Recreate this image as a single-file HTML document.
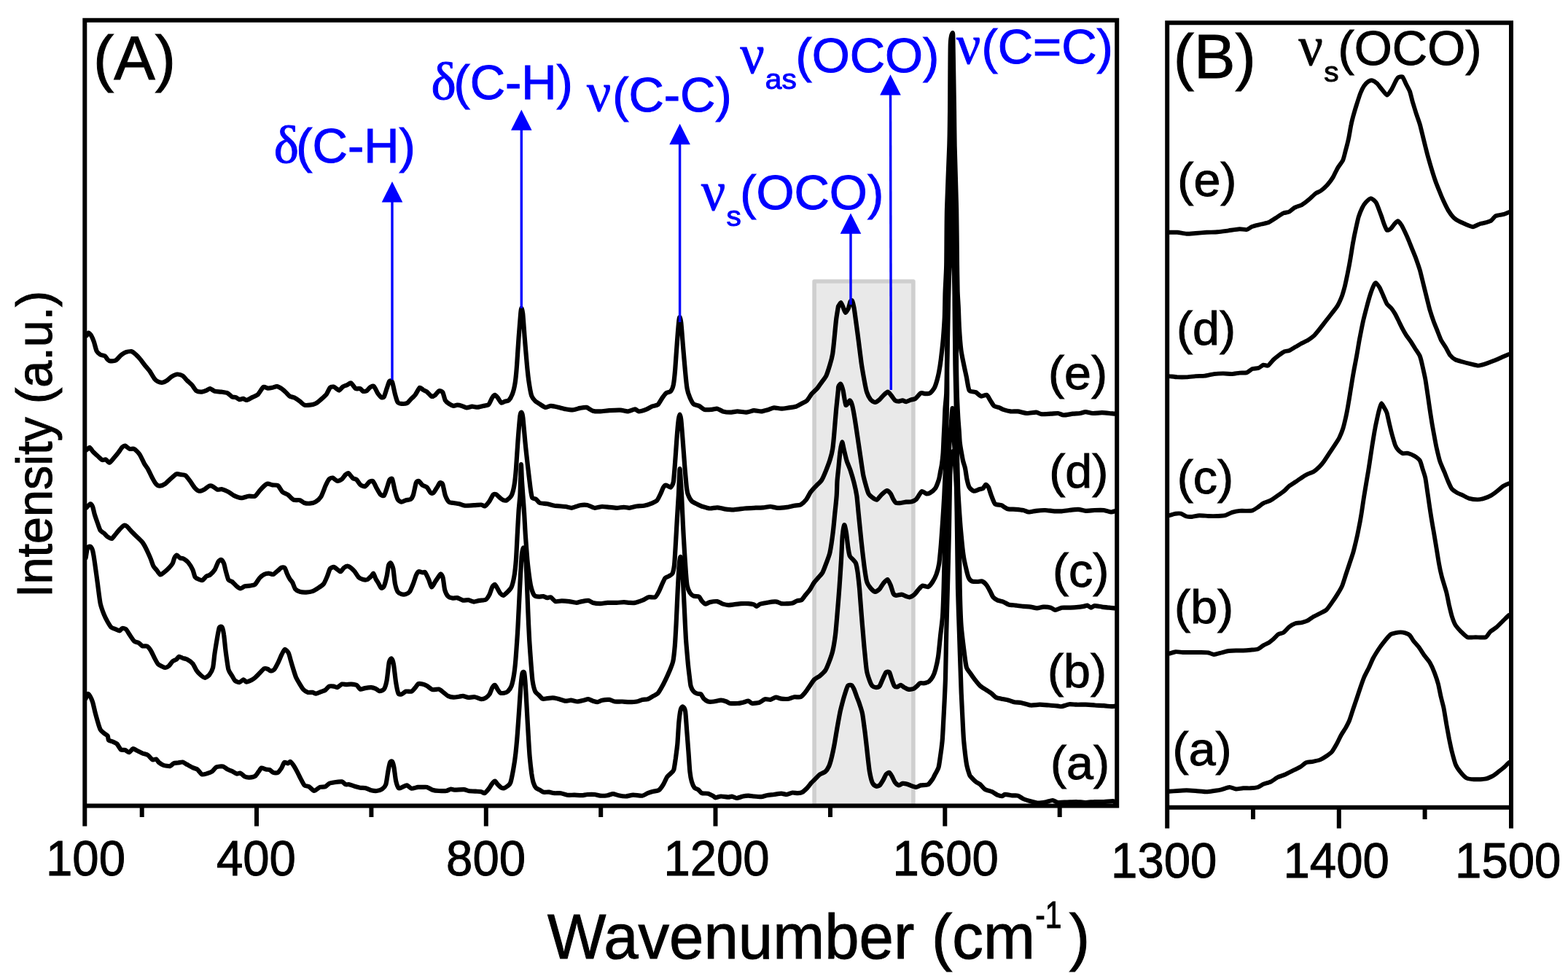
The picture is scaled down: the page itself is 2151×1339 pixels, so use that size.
<!DOCTYPE html>
<html lang="en"><head><meta charset="utf-8"><title>Raman spectra</title><style>html,body{margin:0;padding:0;background:#fff}body{width:2151px;height:1339px;overflow:hidden}svg{display:block}</style></head><body>
<svg width="2151" height="1339" viewBox="0 0 2151 1339">
<rect x="0" y="0" width="2151" height="1339" fill="#fff"/>
<rect id="hl" x="1117.1" y="386" width="135.8" height="719.4" fill="#e9e9e9" stroke="#cfcfcf" stroke-width="5.6" stroke-linejoin="round"/>
<g id="curvesA" fill="none" stroke="#000" stroke-width="6.2" stroke-linejoin="round" stroke-linecap="round">
<path d="M117.6,958.2C117.9,957.5 119.9,952.2 120.6,951.9C121.3,951.6 123.2,954.5 123.9,955.7C124.6,956.9 126.4,961.0 127.1,963.2C127.8,965.4 129.4,972.8 130.1,975.7C130.8,978.6 133.1,986.8 133.9,989.6C134.7,992.4 136.7,999.1 137.7,1000.9C138.7,1002.7 141.6,1004.9 142.7,1005.9C143.8,1006.9 147.0,1008.6 147.7,1009.6C148.4,1010.6 148.3,1014.6 149.0,1015.4C149.7,1016.2 152.8,1016.7 154.0,1017.2C155.2,1017.8 159.0,1019.2 160.3,1020.4C161.6,1021.6 164.6,1027.6 165.8,1028.5C167.0,1029.4 170.3,1028.6 171.6,1029.0C172.9,1029.4 176.1,1032.4 177.3,1032.2C178.5,1032.0 181.1,1027.5 182.3,1027.2C183.5,1026.9 186.5,1029.0 187.9,1029.7C189.3,1030.4 193.8,1032.8 195.4,1033.5C197.1,1034.2 201.4,1035.0 202.9,1036.0C204.4,1037.0 208.0,1041.7 209.2,1042.3C210.4,1042.9 213.2,1041.1 214.2,1041.5C215.2,1041.9 216.9,1045.1 218.0,1046.0C219.1,1046.9 222.6,1049.2 224.3,1049.8C226.0,1050.4 231.6,1051.4 233.1,1051.1C234.6,1050.8 236.9,1047.8 238.1,1047.3C239.3,1046.8 243.0,1046.7 244.4,1046.5C245.8,1046.3 249.2,1045.2 250.6,1045.5C252.0,1045.8 255.4,1048.3 256.9,1049.1C258.4,1049.9 262.9,1052.4 264.4,1053.1C265.9,1053.8 269.3,1054.6 270.7,1055.6C272.1,1056.6 275.5,1061.8 277.0,1062.4C278.5,1063.0 283.0,1061.5 284.5,1061.1C286.0,1060.7 289.4,1059.6 290.8,1058.6C292.2,1057.6 295.4,1053.1 297.1,1052.3C298.8,1051.5 304.2,1051.2 305.9,1051.6C307.6,1052.0 310.8,1054.9 312.2,1055.6C313.6,1056.3 317.0,1057.4 318.4,1058.1C319.8,1058.8 323.5,1061.3 324.7,1061.6C325.9,1061.9 328.5,1060.2 329.7,1060.6C330.9,1061.0 334.6,1064.9 336.0,1065.6C337.4,1066.3 340.8,1066.7 342.3,1066.6C343.8,1066.5 348.4,1065.8 349.8,1064.9C351.2,1064.0 353.8,1059.8 354.8,1058.6C355.8,1057.4 357.5,1053.9 358.6,1053.6C359.7,1053.3 363.7,1055.3 364.9,1055.6C366.1,1055.9 368.8,1055.6 369.9,1056.1C371.0,1056.6 373.7,1059.5 374.9,1059.9C376.1,1060.3 380.0,1060.6 381.2,1059.9C382.4,1059.2 385.2,1055.1 386.2,1053.6C387.2,1052.1 389.0,1046.7 390.0,1046.0C391.0,1045.3 394.1,1047.4 395.0,1047.3C395.9,1047.2 397.5,1044.5 398.3,1044.8C399.1,1045.1 401.5,1048.3 402.5,1049.8C403.5,1051.3 406.5,1056.5 407.6,1058.6C408.7,1060.7 411.5,1066.5 412.6,1068.6C413.7,1070.7 416.4,1076.2 417.6,1077.4C418.8,1078.6 422.4,1078.4 423.9,1079.2C425.4,1080.0 429.2,1084.9 430.9,1085.0C432.5,1085.1 437.2,1080.5 438.9,1079.9C440.6,1079.3 445.1,1079.8 446.5,1079.2C447.9,1078.7 450.1,1075.6 451.5,1074.9C452.9,1074.2 457.1,1073.5 459.0,1073.2C460.9,1072.9 467.4,1072.1 469.1,1072.4C470.8,1072.7 473.0,1075.8 474.1,1076.2C475.2,1076.6 477.7,1075.9 479.1,1076.2C480.5,1076.5 484.9,1078.2 486.6,1078.7C488.3,1079.2 492.5,1080.4 494.2,1080.7C495.9,1081.0 500.1,1080.8 501.7,1081.2C503.3,1081.6 507.5,1083.8 509.2,1084.2C510.9,1084.6 515.1,1085.2 516.8,1085.0C518.5,1084.8 522.9,1083.5 524.3,1082.5C525.7,1081.5 528.4,1078.8 529.3,1076.2C530.2,1073.6 531.7,1061.9 532.3,1058.6C532.9,1055.3 534.5,1047.5 535.1,1046.0C535.7,1044.5 537.5,1044.0 538.1,1044.8C538.7,1045.6 540.1,1050.7 540.6,1053.6C541.1,1056.5 542.4,1068.2 543.1,1071.2C543.8,1074.2 545.9,1080.2 546.9,1081.2C547.9,1082.2 550.7,1080.3 551.9,1079.9C553.1,1079.5 556.8,1077.2 558.2,1077.4C559.6,1077.6 562.8,1081.4 564.5,1081.7C566.2,1082.0 571.6,1080.1 573.3,1079.9C574.9,1079.7 578.1,1079.9 579.5,1079.9C580.9,1079.9 584.3,1079.5 585.8,1079.9C587.3,1080.3 591.5,1083.1 593.3,1083.7C595.1,1084.3 600.0,1084.9 602.1,1085.0C604.2,1085.1 610.4,1085.3 612.2,1085.0C614.0,1084.7 617.3,1082.6 618.5,1082.5C619.7,1082.4 621.5,1083.6 623.5,1083.7C625.5,1083.8 634.2,1083.1 636.3,1083.2C638.4,1083.3 640.8,1084.7 642.6,1085.0C644.4,1085.3 650.7,1085.6 652.6,1085.7C654.5,1085.8 658.9,1085.9 660.2,1086.2C661.5,1086.5 663.6,1088.6 664.7,1088.2C665.8,1087.8 669.0,1084.0 670.2,1082.5C671.4,1081.0 674.2,1076.1 675.2,1074.9C676.2,1073.7 678.2,1071.6 679.0,1071.7C679.8,1071.8 681.8,1075.2 682.8,1076.2C683.8,1077.2 686.8,1080.2 687.8,1080.7C688.8,1081.2 690.6,1081.5 691.6,1081.2C692.6,1080.9 695.6,1079.0 696.6,1078.2C697.6,1077.4 699.5,1076.1 700.3,1073.7C701.1,1071.3 703.3,1060.5 704.1,1056.1C704.9,1051.7 706.8,1039.0 707.4,1033.5C708.0,1028.0 709.4,1012.8 709.9,1005.9C710.4,999.0 711.9,978.4 712.4,970.7C712.9,963.0 714.4,940.8 714.9,935.6C715.4,930.4 716.2,924.4 716.7,923.0C717.2,921.6 718.7,921.1 719.2,923.0C719.7,924.9 720.5,934.8 720.9,940.6C721.3,946.4 722.5,968.0 722.9,975.7C723.3,983.4 724.5,1004.0 724.9,1010.9C725.3,1017.8 726.2,1033.0 726.7,1038.5C727.2,1044.0 728.7,1057.2 729.2,1061.1C729.8,1065.0 731.0,1071.5 731.7,1073.7C732.4,1075.9 734.5,1080.1 735.5,1081.2C736.5,1082.3 739.4,1083.1 740.5,1083.7C741.6,1084.3 744.1,1086.4 745.5,1086.7C746.9,1087.0 751.4,1086.5 753.1,1086.7C754.8,1086.9 758.8,1088.0 760.6,1088.2C762.4,1088.4 767.5,1087.9 769.4,1088.2C771.3,1088.5 776.1,1090.4 778.2,1090.7C780.3,1091.0 786.0,1090.6 788.2,1090.7C790.4,1090.8 796.4,1091.3 798.3,1091.2C800.2,1091.1 803.9,1090.1 805.8,1090.0C807.7,1089.9 813.9,1089.8 815.8,1090.0C817.7,1090.2 821.5,1091.6 823.4,1091.7C825.3,1091.8 831.5,1091.5 833.4,1091.2C835.3,1090.9 839.2,1089.2 840.9,1089.2C842.6,1089.2 846.6,1090.8 848.5,1091.2C850.4,1091.6 856.3,1092.6 858.5,1092.5C860.7,1092.4 866.1,1090.8 868.6,1090.7C871.1,1090.6 878.9,1092.0 881.1,1091.7C883.3,1091.4 886.9,1088.9 888.6,1088.2C890.3,1087.5 894.5,1086.1 896.2,1085.7C897.9,1085.3 902.2,1085.2 903.7,1084.2C905.2,1083.2 908.8,1078.2 910.0,1076.2C911.2,1074.2 913.9,1067.8 915.0,1066.1C916.1,1064.4 919.0,1062.2 920.0,1061.1C921.0,1060.0 923.6,1058.3 924.3,1056.1C925.0,1053.9 926.2,1044.9 926.8,1041.0C927.3,1037.1 928.8,1026.4 929.3,1020.9C929.8,1015.4 930.8,996.0 931.3,990.8C931.8,985.6 933.2,975.5 933.8,973.2C934.4,970.9 936.1,969.2 936.8,969.5C937.5,969.8 939.5,972.2 940.1,975.7C940.7,979.2 941.6,994.8 942.1,1000.9C942.6,1007.0 943.9,1024.7 944.4,1031.0C944.9,1037.3 945.9,1054.0 946.4,1058.6C946.9,1063.2 948.2,1070.0 948.9,1072.4C949.6,1074.8 951.7,1079.5 952.7,1080.7C953.7,1081.9 956.6,1082.4 957.7,1083.2C958.8,1084.0 961.2,1087.6 962.7,1088.2C964.2,1088.8 969.7,1088.2 971.5,1088.7C973.3,1089.2 977.9,1091.9 979.0,1092.5C980.1,1093.1 980.4,1094.3 981.5,1094.3C982.6,1094.3 987.2,1092.6 989.1,1092.5C991.0,1092.4 997.5,1093.7 999.1,1093.7C1000.8,1093.7 1002.9,1092.4 1004.1,1092.5C1005.3,1092.6 1008.7,1095.0 1010.4,1095.0C1012.1,1095.0 1017.4,1092.9 1019.2,1092.5C1021.0,1092.1 1025.0,1091.7 1026.7,1091.7C1028.4,1091.7 1032.4,1092.3 1034.3,1092.5C1036.2,1092.7 1042.4,1093.3 1044.3,1093.2C1046.2,1093.1 1049.9,1091.6 1051.8,1091.2C1053.7,1090.8 1059.7,1090.3 1061.9,1090.0C1064.1,1089.7 1070.0,1088.7 1071.9,1088.7C1073.8,1088.7 1077.8,1090.1 1079.5,1090.0C1081.2,1089.9 1085.3,1087.7 1087.0,1087.5C1088.7,1087.3 1093.0,1088.3 1094.5,1088.2C1096.0,1088.1 1099.4,1087.5 1100.8,1086.7C1102.2,1085.9 1105.7,1082.6 1107.1,1081.2C1108.5,1079.8 1111.9,1075.2 1113.3,1073.7C1114.7,1072.2 1118.4,1068.6 1119.6,1067.4C1120.8,1066.2 1123.2,1063.4 1124.6,1062.4C1126.0,1061.4 1130.8,1059.8 1132.2,1058.6C1133.6,1057.4 1136.2,1053.3 1137.2,1051.1C1138.2,1048.9 1140.2,1041.8 1141.0,1038.5C1141.8,1035.2 1143.9,1025.3 1144.7,1020.9C1145.5,1016.5 1147.6,1003.3 1148.5,998.3C1149.4,993.3 1151.8,979.8 1152.7,975.7C1153.6,971.6 1155.7,963.7 1156.5,960.7C1157.3,957.7 1159.6,950.3 1160.3,948.1C1161.0,945.9 1162.4,941.5 1163.3,940.6C1164.2,939.7 1167.4,939.6 1168.3,940.1C1169.2,940.6 1170.8,943.9 1171.6,945.6C1172.4,947.3 1174.5,953.5 1175.3,955.7C1176.1,957.9 1178.3,963.2 1179.1,965.7C1179.9,968.2 1182.2,975.0 1182.9,978.3C1183.6,981.6 1184.9,991.7 1185.4,995.8C1186.0,999.9 1187.4,1011.2 1187.9,1015.9C1188.5,1020.6 1189.9,1033.8 1190.4,1038.5C1191.0,1043.2 1192.2,1054.7 1192.9,1058.6C1193.6,1062.5 1195.7,1071.5 1196.7,1073.7C1197.7,1075.9 1200.6,1078.3 1201.7,1078.7C1202.8,1079.1 1205.6,1078.4 1206.7,1077.4C1207.8,1076.4 1210.7,1071.6 1211.7,1069.9C1212.7,1068.2 1214.6,1063.5 1215.5,1062.4C1216.4,1061.3 1219.1,1059.6 1220.0,1059.9C1220.9,1060.2 1222.6,1063.4 1223.5,1064.9C1224.4,1066.4 1226.9,1072.3 1228.0,1073.7C1229.1,1075.1 1232.0,1077.3 1233.1,1077.4C1234.2,1077.5 1236.9,1075.1 1238.1,1074.9C1239.3,1074.7 1243.0,1075.3 1244.4,1075.7C1245.8,1076.1 1249.2,1077.7 1250.6,1078.2C1252.0,1078.7 1255.5,1080.0 1256.9,1079.9C1258.3,1079.8 1261.4,1077.8 1263.2,1077.4C1265.0,1077.0 1271.4,1077.2 1273.2,1076.2C1275.0,1075.2 1278.5,1069.9 1279.5,1068.6C1280.5,1067.3 1281.0,1065.7 1281.9,1064.0C1282.8,1062.3 1286.6,1055.7 1287.5,1052.8C1288.4,1049.9 1289.4,1041.3 1290.0,1037.4C1290.6,1033.5 1292.1,1022.1 1292.6,1017.0C1293.1,1011.9 1293.8,997.6 1294.1,991.4C1294.4,985.2 1295.4,967.5 1295.7,960.7C1296.0,953.9 1296.7,940.0 1297.0,930.0C1297.3,920.0 1297.9,883.5 1298.2,870.0C1298.5,856.5 1299.5,822.4 1299.9,807.0C1300.3,791.6 1301.6,745.1 1301.9,730.0C1302.2,714.9 1302.7,680.2 1302.9,670.0C1303.1,659.8 1303.5,642.6 1304.0,637.0C1304.5,631.4 1306.3,619.0 1307.0,619.0C1307.7,619.0 1309.5,631.4 1310.0,637.0C1310.5,642.6 1311.7,659.8 1312.0,670.0C1312.3,680.2 1312.8,714.9 1313.0,730.0C1313.2,745.1 1313.7,791.6 1314.0,807.0C1314.3,822.4 1315.6,856.5 1316.0,870.0C1316.4,883.5 1317.7,921.1 1318.0,930.0C1318.3,938.9 1318.5,946.0 1318.7,950.5C1318.9,955.0 1319.5,966.4 1319.7,970.9C1319.9,975.4 1320.5,986.9 1320.7,991.4C1320.9,995.9 1321.5,1007.4 1321.8,1011.9C1322.1,1016.4 1323.3,1028.0 1323.8,1032.3C1324.3,1036.6 1325.7,1047.3 1326.4,1050.7C1327.1,1054.1 1329.4,1061.3 1330.0,1063.0C1330.6,1064.7 1331.3,1065.1 1332.2,1066.1C1333.1,1067.1 1337.1,1071.3 1338.5,1072.4C1339.9,1073.5 1343.4,1075.2 1344.8,1076.3C1346.2,1077.5 1349.3,1081.7 1351.1,1082.8C1352.9,1083.9 1359.2,1085.4 1361.1,1086.3C1363.0,1087.2 1367.1,1090.2 1368.6,1090.8C1370.1,1091.5 1373.8,1092.3 1374.9,1092.2C1376.0,1092.1 1377.2,1089.9 1378.7,1089.8C1380.2,1089.7 1386.8,1091.2 1388.7,1091.4C1390.6,1091.6 1394.6,1091.1 1396.3,1091.6C1398.0,1092.1 1401.9,1095.2 1403.8,1096.0C1405.7,1096.8 1411.6,1098.6 1413.8,1099.2C1416.0,1099.8 1421.7,1101.6 1423.9,1101.7C1426.1,1101.8 1431.7,1100.9 1433.9,1100.5C1436.1,1100.1 1442.1,1097.9 1444.0,1098.0C1445.9,1098.1 1449.3,1100.7 1451.5,1101.0C1453.7,1101.3 1461.2,1100.6 1464.0,1100.5C1466.8,1100.4 1473.8,1099.9 1476.6,1100.0C1479.4,1100.1 1486.4,1101.0 1489.2,1101.0C1492.0,1101.0 1498.9,1100.1 1501.7,1100.0C1504.5,1099.9 1511.5,1100.1 1514.3,1100.0C1517.1,1099.9 1525.1,1099.1 1526.8,1099.2C1528.5,1099.3 1529.0,1100.4 1529.3,1100.5"/>
<path d="M117.6,765.4C117.9,763.9 119.4,753.3 120.1,751.6C120.8,749.9 123.1,749.4 123.9,749.8C124.7,750.2 126.4,752.8 127.1,755.3C127.8,757.8 129.4,767.9 130.1,772.9C130.8,777.9 133.1,794.4 133.9,800.5C134.7,806.6 136.7,823.4 137.7,828.1C138.7,832.8 141.6,840.4 142.7,843.2C143.8,846.0 146.6,851.3 147.7,853.2C148.8,855.1 151.5,859.7 152.7,860.8C153.9,861.9 157.8,862.8 159.0,863.3C160.2,863.8 163.0,865.4 164.0,865.3C165.0,865.2 166.8,862.2 167.8,862.0C168.8,861.8 171.7,862.3 172.8,863.3C173.9,864.3 176.6,869.0 177.8,870.8C179.0,872.6 182.7,878.4 184.1,879.6C185.5,880.8 189.2,881.4 190.4,882.1C191.6,882.8 194.2,885.9 195.4,886.4C196.6,886.9 200.5,885.8 201.7,886.4C202.9,887.0 205.6,890.5 206.7,892.2C207.8,893.9 210.6,900.1 211.7,902.2C212.8,904.3 215.6,909.7 216.7,911.0C217.8,912.3 220.7,913.5 221.8,914.0C222.9,914.5 225.7,916.1 226.8,916.0C227.9,915.9 230.7,914.5 231.8,913.5C232.9,912.5 235.7,908.2 236.8,907.2C237.9,906.2 240.9,905.4 241.9,904.7C242.9,904.0 244.6,901.1 245.6,900.9C246.6,900.7 249.4,902.5 250.6,902.9C251.8,903.3 255.4,903.9 256.9,904.7C258.4,905.5 263.0,908.8 264.4,910.5C265.8,912.2 268.3,918.0 269.5,919.8C270.7,921.6 274.4,925.4 275.7,926.5C277.0,927.6 280.1,929.9 281.3,929.8C282.5,929.7 285.8,927.5 287.0,926.0C288.2,924.5 291.3,919.3 292.1,916.0C292.9,912.7 293.9,900.6 294.6,895.9C295.3,891.2 297.6,877.2 298.3,873.3C299.0,869.4 300.2,862.2 300.9,860.8C301.6,859.4 303.9,859.2 304.6,860.3C305.3,861.4 306.6,867.2 307.1,870.8C307.7,874.4 308.9,888.2 309.6,893.4C310.3,898.6 312.4,914.8 313.4,918.5C314.4,922.2 317.4,925.6 318.4,927.3C319.4,929.0 321.1,932.6 322.2,933.6C323.3,934.6 327.2,936.2 328.5,936.1C329.8,936.0 333.0,932.4 334.0,932.3C335.0,932.2 336.8,935.5 338.0,935.6C339.2,935.7 343.5,933.7 344.8,933.1C346.1,932.5 348.6,930.9 349.8,929.8C351.0,928.7 354.7,924.9 356.1,923.5C357.5,922.1 361.2,917.9 362.4,917.3C363.6,916.7 366.4,917.6 367.4,918.0C368.4,918.4 370.2,920.4 371.2,920.5C372.2,920.6 375.1,919.7 376.2,918.5C377.3,917.3 380.1,911.9 381.2,909.7C382.3,907.5 385.2,900.5 386.2,898.4C387.2,896.3 389.6,891.2 390.7,890.9C391.8,890.6 394.9,894.2 395.8,895.9C396.7,897.6 398.1,903.5 398.8,906.0C399.5,908.5 401.7,915.9 402.5,918.5C403.3,921.1 405.3,927.6 406.3,929.8C407.3,932.0 410.2,936.8 411.3,938.6C412.4,940.4 415.1,944.9 416.3,946.1C417.5,947.3 421.2,949.5 422.6,949.9C424.0,950.3 427.7,949.7 428.9,949.9C430.1,950.1 432.2,951.8 433.4,951.7C434.6,951.6 438.8,949.7 440.2,949.1C441.6,948.5 445.3,947.4 446.5,946.6C447.7,945.8 450.3,942.1 451.5,941.6C452.7,941.1 456.6,941.4 457.8,941.6C459.0,941.8 461.6,943.4 462.8,943.1C464.0,942.8 467.7,939.0 469.1,938.6C470.5,938.2 473.9,939.1 475.3,939.1C476.7,939.1 480.1,938.5 481.6,938.6C483.1,938.7 487.8,939.1 489.2,939.9C490.6,940.7 493.0,945.1 494.2,945.6C495.4,946.1 498.9,944.4 500.5,944.1C502.1,943.8 507.6,943.0 509.2,943.1C510.8,943.2 514.3,944.4 515.5,944.9C516.7,945.4 519.3,948.0 520.5,948.1C521.7,948.2 525.7,947.2 526.8,945.6C527.9,944.0 529.8,937.7 530.6,933.6C531.4,929.5 533.1,911.8 533.8,908.5C534.5,905.2 536.2,903.1 536.9,903.4C537.6,903.7 539.2,907.4 539.9,911.0C540.6,914.6 542.4,931.7 543.1,936.1C543.8,940.5 545.6,949.4 546.4,951.2C547.2,953.0 549.5,952.7 550.7,952.4C551.9,952.1 555.4,949.0 556.9,948.6C558.4,948.2 563.1,949.1 564.5,948.6C565.9,948.1 568.5,944.8 569.5,943.6C570.5,942.4 572.9,938.6 574.0,938.1C575.1,937.6 578.2,938.3 579.5,938.6C580.8,938.9 584.3,940.3 585.8,941.1C587.3,941.9 591.5,945.6 593.3,946.1C595.1,946.6 600.4,945.2 602.1,945.6C603.8,946.0 607.0,948.9 608.4,949.9C609.8,950.9 613.2,954.2 614.7,954.9C616.2,955.6 620.5,956.6 622.2,956.7C623.9,956.8 628.4,955.9 629.8,955.7C631.2,955.5 633.7,954.8 635.1,954.9C636.5,955.0 640.8,956.8 642.6,956.9C644.4,957.0 649.5,955.9 651.4,956.2C653.3,956.5 658.6,959.1 660.2,959.2C661.9,959.3 665.2,958.1 666.4,957.4C667.6,956.7 670.5,953.9 671.5,952.4C672.5,950.9 674.4,945.0 675.2,943.6C676.0,942.2 678.2,939.6 679.0,939.9C679.8,940.2 682.0,944.9 682.8,946.1C683.6,947.3 685.5,950.2 686.5,950.7C687.5,951.2 690.5,950.9 691.6,950.7C692.7,950.5 695.5,949.7 696.6,948.6C697.7,947.5 700.6,943.9 701.6,941.1C702.6,938.3 704.7,928.2 705.4,923.5C706.1,918.8 707.4,905.3 707.9,898.4C708.4,891.5 709.9,870.5 710.4,860.8C710.9,851.1 712.4,821.1 712.9,810.6C713.4,800.1 714.9,771.9 715.4,765.4C715.9,758.9 717.4,752.4 717.9,751.6C718.4,750.8 719.9,753.8 720.4,757.8C720.9,761.8 722.0,779.4 722.4,788.0C722.8,796.6 723.8,825.8 724.2,835.7C724.6,845.6 725.7,870.0 726.2,878.3C726.7,886.6 728.0,904.9 728.5,911.0C729.0,917.1 729.9,929.5 730.5,933.6C731.1,937.7 733.2,946.4 734.2,948.6C735.2,950.8 738.2,952.6 739.3,953.7C740.4,954.8 743.1,958.2 744.3,958.7C745.5,959.2 749.1,958.3 750.6,958.2C752.1,958.1 756.5,957.3 758.1,957.4C759.8,957.5 763.7,958.2 765.6,958.7C767.5,959.2 773.8,961.5 775.7,961.7C777.6,961.9 781.4,960.6 783.2,960.7C785.0,960.8 790.1,962.5 792.0,962.5C793.9,962.5 799.1,961.1 800.8,960.7C802.4,960.3 805.6,959.1 807.0,959.2C808.4,959.3 811.9,961.3 813.3,961.7C814.7,962.1 818.2,963.3 819.6,963.2C821.0,963.1 824.1,961.1 825.9,960.7C827.7,960.3 834.0,959.7 835.9,959.9C837.8,960.1 841.5,962.2 843.4,962.5C845.3,962.8 851.3,962.4 853.5,962.5C855.7,962.6 861.3,963.2 863.5,963.2C865.7,963.2 871.7,962.9 873.6,962.5C875.5,962.1 879.5,960.3 881.1,959.9C882.8,959.5 886.9,959.8 888.6,959.2C890.3,958.7 894.7,955.8 896.2,954.9C897.7,954.0 901.1,952.7 902.5,951.2C903.9,949.7 907.5,943.3 908.7,941.1C909.9,938.9 912.6,933.4 913.7,931.1C914.8,928.8 917.7,922.4 918.8,919.8C919.9,917.2 922.5,910.9 923.3,907.2C924.1,903.5 925.3,891.6 925.8,885.9C926.3,880.2 927.2,863.2 927.6,855.7C928.0,848.2 928.9,826.4 929.3,818.1C929.7,809.8 930.9,786.3 931.3,780.4C931.7,774.5 932.9,765.2 933.3,764.1C933.7,763.0 934.9,766.4 935.3,770.4C935.7,774.4 936.7,793.3 937.1,800.5C937.5,807.7 938.5,827.4 938.9,835.7C939.3,844.0 940.4,868.1 940.9,875.8C941.4,883.5 942.9,900.2 943.4,906.0C943.9,911.8 945.4,924.7 945.9,928.6C946.4,932.5 947.0,938.9 947.6,941.1C948.2,943.3 950.4,947.4 951.4,948.6C952.4,949.8 955.3,951.3 956.4,951.7C957.5,952.1 960.5,951.7 961.5,952.4C962.5,953.1 964.1,957.1 965.2,958.2C966.3,959.3 970.0,962.0 971.5,962.5C973.0,963.0 977.1,962.7 979.0,962.5C980.9,962.3 987.2,960.7 989.1,960.7C991.0,960.7 995.2,962.0 996.6,962.5C998.0,963.0 999.9,964.7 1001.6,965.0C1003.3,965.3 1009.8,965.1 1011.7,965.0C1013.6,964.9 1017.6,964.1 1019.2,963.7C1020.9,963.3 1025.3,961.6 1026.7,961.7C1028.1,961.8 1030.0,964.8 1031.7,965.0C1033.4,965.2 1039.9,964.3 1041.8,963.7C1043.7,963.1 1047.6,959.6 1049.3,959.2C1051.0,958.8 1055.2,960.2 1056.9,959.9C1058.6,959.6 1062.8,956.8 1064.4,956.7C1066.1,956.6 1070.0,958.5 1071.9,958.7C1073.8,958.9 1080.1,959.0 1082.0,958.7C1083.9,958.4 1087.7,956.5 1089.5,956.2C1091.3,955.9 1096.6,956.9 1098.3,956.2C1100.0,955.5 1103.2,951.6 1104.6,949.9C1106.0,948.2 1109.4,943.0 1110.8,941.1C1112.2,939.2 1115.6,933.8 1117.1,932.3C1118.6,930.8 1122.9,928.7 1124.6,927.3C1126.3,925.9 1130.8,921.9 1132.2,919.8C1133.6,917.7 1136.1,911.4 1137.2,908.5C1138.3,905.6 1141.2,897.5 1142.2,893.4C1143.2,889.3 1145.3,876.3 1146.0,870.8C1146.7,865.3 1147.9,850.4 1148.5,843.2C1149.1,836.0 1150.9,813.8 1151.5,805.5C1152.1,797.2 1153.5,775.6 1154.0,767.9C1154.5,760.2 1155.2,740.4 1155.7,735.2C1156.2,730.0 1157.6,720.8 1158.2,720.2C1158.8,719.7 1160.2,726.9 1160.8,730.2C1161.4,733.5 1162.8,746.7 1163.3,750.3C1163.8,753.9 1165.0,761.0 1165.8,762.9C1166.6,764.8 1169.4,766.8 1170.3,767.9C1171.2,769.0 1173.4,771.0 1174.1,772.9C1174.8,774.8 1176.0,781.5 1176.6,785.4C1177.1,789.3 1178.5,801.9 1179.1,808.0C1179.6,814.1 1181.0,833.8 1181.6,840.7C1182.1,847.6 1183.5,864.5 1184.1,870.8C1184.6,877.1 1186.0,892.9 1186.6,898.4C1187.1,903.9 1188.4,917.1 1189.1,921.0C1189.8,924.9 1192.1,931.4 1192.9,933.6C1193.7,935.8 1195.7,940.1 1196.7,941.1C1197.7,942.1 1200.6,943.1 1201.7,943.1C1202.8,943.1 1205.6,942.6 1206.7,941.1C1207.8,939.6 1210.7,931.9 1211.7,929.8C1212.7,927.7 1214.6,923.1 1215.5,922.3C1216.4,921.5 1219.2,921.3 1220.0,922.3C1220.8,923.3 1222.3,929.0 1223.0,931.1C1223.7,933.2 1226.0,939.9 1226.8,941.1C1227.6,942.3 1229.6,942.5 1230.6,942.4C1231.6,942.3 1234.5,939.8 1235.6,939.9C1236.7,940.0 1239.5,942.5 1240.6,943.1C1241.7,943.7 1244.2,945.4 1245.6,945.6C1247.0,945.8 1251.8,945.4 1253.2,944.9C1254.6,944.4 1257.2,941.9 1258.2,941.1C1259.2,940.3 1260.8,937.7 1261.9,937.3C1263.0,936.9 1266.8,937.6 1268.2,937.3C1269.6,937.0 1273.3,935.8 1274.5,934.8C1275.7,933.8 1278.5,930.4 1279.5,928.6C1280.5,926.8 1282.5,921.5 1283.3,918.5C1284.1,915.5 1286.2,906.3 1287.0,901.0C1287.8,895.7 1289.6,876.0 1290.3,870.0C1291.0,864.0 1292.5,852.9 1293.0,846.0C1293.5,839.1 1294.2,819.8 1294.6,807.0C1295.0,794.2 1296.1,745.1 1296.5,730.0C1296.9,714.9 1298.1,678.2 1298.5,670.0C1298.9,661.8 1299.7,659.4 1300.0,655.0C1300.3,650.6 1301.0,636.0 1301.3,630.0C1301.6,624.0 1302.6,605.4 1303.0,600.0C1303.4,594.6 1304.4,585.4 1304.8,581.0C1305.2,576.6 1306.1,560.4 1306.4,560.0C1306.7,559.6 1307.3,572.6 1307.5,577.0C1307.7,581.4 1308.2,594.2 1308.5,600.0C1308.8,605.8 1310.1,622.3 1310.5,630.0C1310.9,637.7 1312.0,659.0 1312.5,670.0C1313.0,681.0 1315.0,714.9 1315.5,730.0C1316.0,745.1 1316.4,793.2 1316.7,807.0C1317.0,820.8 1317.9,847.6 1318.4,855.7C1318.9,863.8 1320.4,875.9 1321.0,880.9C1321.6,885.9 1323.0,897.1 1323.5,901.0C1324.0,904.9 1325.2,913.5 1326.0,916.0C1326.8,918.5 1329.8,921.7 1331.0,923.5C1332.2,925.3 1335.8,930.4 1337.3,932.3C1338.8,934.2 1343.1,939.6 1344.8,941.1C1346.5,942.6 1350.6,945.0 1352.3,946.1C1354.0,947.2 1358.4,950.0 1359.9,951.2C1361.4,952.4 1364.6,955.9 1366.1,956.7C1367.6,957.5 1371.8,958.3 1373.7,958.7C1375.6,959.1 1381.8,960.2 1383.7,960.7C1385.6,961.2 1389.3,962.8 1391.2,963.2C1393.1,963.6 1398.8,963.7 1401.3,964.2C1403.8,964.7 1411.0,967.2 1413.8,967.5C1416.6,967.8 1423.6,966.7 1426.4,966.7C1429.2,966.7 1436.1,967.3 1438.9,967.5C1441.7,967.7 1449.6,968.5 1451.5,968.7C1453.4,968.9 1454.8,969.5 1456.5,969.2C1458.2,968.9 1464.4,966.5 1466.6,966.2C1468.8,965.9 1474.1,966.6 1476.6,966.7C1479.1,966.8 1486.4,966.6 1489.2,966.7C1492.0,966.8 1498.9,967.3 1501.7,967.5C1504.5,967.7 1511.8,968.0 1514.3,968.2C1516.8,968.4 1522.6,969.1 1524.3,969.2C1526.0,969.3 1528.8,968.8 1529.3,968.7"/>
<path d="M118.8,696.3C119.4,695.8 123.0,691.4 123.9,691.3C124.8,691.2 126.5,693.6 127.1,695.1C127.7,696.6 128.9,702.6 129.6,705.1C130.3,707.6 133.0,715.2 133.9,717.7C134.8,720.2 136.7,726.2 137.7,727.7C138.7,729.2 141.6,730.5 142.7,731.5C143.8,732.5 146.5,735.7 147.7,736.5C148.9,737.3 152.1,739.3 153.2,739.0C154.3,738.7 156.5,735.4 157.7,734.0C158.9,732.6 162.6,727.9 164.0,726.4C165.4,724.9 169.2,721.2 170.3,720.7C171.4,720.2 173.0,721.3 174.1,722.2C175.2,723.1 178.9,727.6 180.3,729.0C181.7,730.4 184.9,733.6 186.6,735.2C188.3,736.9 193.7,741.8 195.4,744.0C197.1,746.2 200.5,752.8 201.7,755.3C202.9,757.8 205.7,764.2 206.7,766.6C207.7,769.0 209.5,774.9 210.5,776.7C211.5,778.5 214.5,781.6 215.5,782.9C216.5,784.2 218.9,788.3 220.0,788.5C221.1,788.7 224.2,785.9 225.5,784.9C226.8,783.9 230.6,780.5 231.8,779.2C233.0,777.9 236.0,774.4 236.8,772.9C237.6,771.4 238.7,766.6 239.3,765.4C239.9,764.2 241.8,761.6 242.6,761.6C243.4,761.6 245.9,764.9 246.9,765.4C247.9,765.9 250.7,765.9 251.9,766.6C253.1,767.3 256.8,769.9 258.2,771.6C259.6,773.3 263.4,779.5 264.4,781.7C265.4,783.9 266.7,790.2 267.7,791.7C268.7,793.2 272.1,794.5 273.2,795.0C274.3,795.5 276.7,796.5 277.8,796.0C278.9,795.5 282.1,791.3 283.3,790.5C284.5,789.7 287.1,789.5 288.3,788.5C289.5,787.5 293.4,783.7 294.6,781.7C295.8,779.7 298.6,771.9 299.6,770.4C300.6,768.9 302.6,767.6 303.4,767.9C304.2,768.2 306.4,771.2 307.1,772.9C307.8,774.5 308.9,780.4 309.6,782.9C310.3,785.4 312.4,793.8 313.4,795.5C314.4,797.2 317.2,797.0 318.4,798.0C319.6,799.0 323.5,803.3 324.7,804.3C325.9,805.3 328.5,807.5 329.7,807.5C330.9,807.5 334.5,804.7 336.0,804.3C337.5,803.9 342.0,803.8 343.5,803.5C345.0,803.2 348.4,803.0 349.8,801.8C351.2,800.6 354.7,794.5 356.1,793.0C357.5,791.5 361.0,788.7 362.4,788.0C363.8,787.3 367.2,786.7 368.6,786.7C370.0,786.7 373.5,788.4 374.9,788.0C376.3,787.6 380.0,783.9 381.2,782.9C382.4,781.9 385.2,779.1 386.2,778.7C387.2,778.3 389.9,778.3 390.7,779.2C391.5,780.1 393.0,785.1 393.7,786.7C394.4,788.4 396.7,792.8 397.5,794.2C398.3,795.6 400.5,797.8 401.3,799.3C402.1,800.8 403.9,806.6 405.0,808.0C406.1,809.4 409.6,811.3 411.3,811.8C413.0,812.3 418.2,812.7 420.1,812.6C422.0,812.5 427.1,811.7 428.9,811.1C430.7,810.5 434.7,807.9 436.4,806.8C438.1,805.7 442.6,802.8 444.0,801.0C445.4,799.2 448.0,792.8 449.0,790.5C450.0,788.2 451.7,781.8 452.7,780.4C453.7,779.0 456.7,777.8 457.8,777.9C458.9,778.0 461.8,780.5 462.8,781.2C463.8,781.9 466.1,784.4 467.1,784.2C468.1,784.0 470.6,780.0 471.6,779.2C472.6,778.4 475.5,776.7 476.6,776.7C477.7,776.7 480.5,778.4 481.6,779.2C482.7,780.0 485.5,782.8 486.6,784.2C487.7,785.6 490.5,790.5 491.7,791.7C492.9,792.9 496.5,794.6 497.9,795.0C499.3,795.4 503.0,795.5 504.2,795.0C505.4,794.5 508.3,791.4 509.2,790.5C510.1,789.6 511.6,786.3 512.3,786.7C513.0,787.1 514.7,792.7 515.5,794.2C516.3,795.7 518.5,799.1 519.3,800.5C520.1,801.9 522.2,806.4 523.0,806.8C523.8,807.2 526.0,806.1 526.8,804.3C527.6,802.5 529.9,793.7 530.6,790.5C531.3,787.3 532.5,777.4 533.1,775.4C533.7,773.4 535.4,771.9 536.1,772.4C536.8,772.9 538.8,777.3 539.4,780.4C540.0,783.5 541.2,797.0 541.9,800.5C542.6,804.0 544.6,810.2 545.6,811.8C546.6,813.4 549.5,814.7 550.7,815.1C551.9,815.5 555.7,815.5 556.9,815.1C558.1,814.7 560.9,813.4 562.0,811.8C563.1,810.2 566.0,803.0 567.0,800.5C568.0,798.0 570.0,791.0 570.8,789.2C571.6,787.4 573.5,784.6 574.5,784.2C575.5,783.8 578.5,785.3 579.5,785.4C580.5,785.5 582.3,784.3 583.3,785.4C584.3,786.5 587.3,793.3 588.3,795.5C589.3,797.7 591.1,805.2 592.1,805.5C593.1,805.8 596.0,799.6 597.1,798.0C598.2,796.4 601.3,791.7 602.1,790.5C602.9,789.3 604.0,787.2 604.6,787.5C605.2,787.8 607.1,790.6 607.7,793.0C608.3,795.4 609.4,806.5 610.2,809.3C611.0,812.1 613.5,816.9 614.7,818.1C615.9,819.3 619.6,820.4 621.0,820.6C622.4,820.8 625.6,819.8 627.2,820.1C628.8,820.4 633.4,823.3 635.1,823.6C636.8,823.9 641.0,822.9 642.6,823.1C644.2,823.3 648.4,825.5 650.1,825.6C651.8,825.7 655.9,824.2 657.7,823.9C659.5,823.6 664.9,823.5 666.4,822.6C667.9,821.7 670.5,817.5 671.5,815.6C672.5,813.7 674.4,807.0 675.2,805.5C676.0,804.0 678.2,801.5 679.0,801.8C679.8,802.1 682.0,806.6 682.8,808.0C683.6,809.4 685.6,813.3 686.5,814.3C687.4,815.3 689.7,817.1 690.8,816.8C691.9,816.5 695.4,813.0 696.6,811.8C697.8,810.6 700.6,807.8 701.6,805.5C702.6,803.2 704.7,794.6 705.4,790.5C706.1,786.4 707.4,774.5 707.9,767.9C708.4,761.3 709.5,737.7 709.9,730.2C710.3,722.7 711.2,705.6 711.6,700.1C712.0,694.6 713.1,684.4 713.4,680.0C713.7,675.6 713.8,664.7 714.0,660.0C714.2,655.3 714.7,637.0 714.9,637.0C715.1,637.0 715.7,655.3 716.0,660.0C716.3,664.7 717.0,675.0 717.4,680.0C717.8,685.0 718.8,699.0 719.2,705.1C719.6,711.2 720.4,728.3 720.9,735.2C721.4,742.1 722.8,761.3 723.4,767.9C724.0,774.5 726.1,791.1 726.7,795.5C727.3,799.9 728.5,805.7 729.2,808.0C729.9,810.3 731.9,815.6 733.0,816.8C734.1,818.0 737.9,818.5 739.3,818.6C740.7,818.7 744.3,817.9 745.5,818.1C746.7,818.3 749.5,820.0 750.6,820.1C751.7,820.2 754.4,818.8 755.6,819.3C756.8,819.8 760.2,824.5 761.9,825.1C763.5,825.7 768.5,824.4 770.6,824.4C772.7,824.4 778.5,824.8 780.7,825.1C782.9,825.4 788.8,826.9 790.7,826.9C792.6,826.9 796.5,825.4 798.3,825.1C800.1,824.8 805.4,823.7 807.0,823.9C808.6,824.1 811.5,826.4 813.3,826.9C815.1,827.4 821.2,828.1 823.4,828.1C825.6,828.1 830.9,827.0 833.4,826.9C835.9,826.8 843.5,827.0 846.0,826.9C848.5,826.8 854.1,826.1 856.0,826.1C857.9,826.1 861.8,826.8 863.5,826.9C865.2,827.0 869.2,827.3 871.1,826.9C873.0,826.5 879.0,824.4 881.1,823.6C883.2,822.8 888.0,819.8 889.9,819.3C891.8,818.8 897.2,820.1 898.7,819.3C900.2,818.5 902.6,813.9 903.7,811.8C904.8,809.7 907.7,802.6 908.7,800.5C909.7,798.4 911.5,794.1 912.5,793.0C913.5,791.9 916.4,791.2 917.5,790.5C918.6,789.8 921.7,788.4 922.5,786.7C923.3,785.0 924.5,779.7 925.0,775.4C925.5,771.1 926.4,754.7 926.8,747.8C927.2,740.9 928.4,720.1 928.8,712.6C929.2,705.1 930.5,685.6 930.8,680.0C931.1,674.4 931.4,666.1 931.6,662.0C931.8,657.9 932.3,643.0 932.6,643.0C932.9,643.0 933.7,657.9 934.0,662.0C934.3,666.1 934.8,673.9 935.1,680.0C935.4,686.1 936.4,709.4 936.8,717.7C937.2,726.0 938.4,747.9 938.9,755.3C939.4,762.7 940.5,780.2 940.9,785.4C941.3,790.6 942.0,800.0 942.6,803.0C943.2,806.0 945.4,811.5 946.4,813.1C947.4,814.7 950.0,817.0 951.4,817.6C952.8,818.2 957.7,817.9 958.9,818.6C960.1,819.3 961.7,823.3 962.7,824.4C963.7,825.5 966.5,828.4 967.7,828.6C968.9,828.8 972.2,826.5 974.0,826.1C975.8,825.7 982.1,824.8 984.0,825.1C985.9,825.4 989.9,828.1 991.6,828.6C993.3,829.1 997.5,830.0 999.1,830.1C1000.8,830.2 1004.7,829.6 1006.6,829.4C1008.5,829.2 1014.5,828.2 1016.7,828.1C1018.9,828.0 1024.8,828.0 1026.7,828.1C1028.6,828.2 1033.1,829.0 1034.3,829.4C1035.5,829.8 1037.0,832.0 1038.0,831.9C1039.0,831.8 1041.5,829.1 1043.0,828.6C1044.5,828.1 1050.0,827.2 1051.8,826.9C1053.6,826.6 1057.9,825.7 1059.4,825.6C1060.9,825.5 1064.2,825.3 1065.6,825.6C1067.0,825.9 1070.4,827.8 1071.9,828.1C1073.4,828.4 1077.8,828.2 1079.5,828.1C1081.2,828.0 1085.5,828.0 1087.0,827.6C1088.5,827.2 1091.9,824.9 1093.3,824.4C1094.7,823.9 1098.3,823.9 1099.5,823.1C1100.7,822.3 1103.4,818.3 1104.6,816.8C1105.8,815.3 1109.6,811.1 1110.8,809.3C1112.0,807.5 1114.7,802.3 1115.9,800.5C1117.1,798.7 1120.7,794.7 1122.1,793.0C1123.5,791.3 1127.2,787.6 1128.4,785.4C1129.6,783.2 1132.3,775.9 1133.4,772.9C1134.5,769.9 1137.5,762.5 1138.5,757.8C1139.5,753.1 1142.0,736.0 1142.7,730.2C1143.4,724.4 1144.7,710.6 1145.2,705.1C1145.8,699.6 1147.3,685.0 1147.7,680.0C1148.1,675.0 1148.2,664.4 1148.5,660.0C1148.8,655.6 1150.1,644.4 1150.5,640.0C1150.9,635.6 1152.0,623.7 1152.5,620.0C1153.0,616.3 1154.6,606.7 1155.2,606.5C1155.8,606.3 1157.3,615.2 1158.0,618.0C1158.7,620.8 1160.6,629.0 1161.5,632.0C1162.4,635.0 1165.4,641.7 1166.5,645.0C1167.6,648.3 1170.5,658.1 1171.5,662.0C1172.5,665.9 1174.6,675.3 1175.3,680.0C1176.0,684.7 1177.1,698.2 1177.8,705.1C1178.5,712.0 1180.8,735.1 1181.6,742.8C1182.4,750.5 1184.6,769.3 1185.4,775.4C1186.2,781.5 1188.1,794.5 1189.1,798.0C1190.1,801.5 1193.0,805.3 1194.2,806.8C1195.4,808.3 1199.0,811.7 1200.4,811.8C1201.8,811.9 1205.5,809.2 1206.7,808.0C1207.9,806.8 1210.5,801.9 1211.7,800.5C1212.9,799.1 1216.4,794.7 1217.5,795.0C1218.6,795.3 1220.9,800.9 1221.8,803.0C1222.7,805.1 1224.7,812.8 1225.5,814.3C1226.3,815.8 1228.1,816.7 1229.3,816.8C1230.5,816.9 1235.3,815.5 1236.8,815.6C1238.3,815.7 1241.9,817.7 1243.1,818.1C1244.3,818.5 1246.9,819.6 1248.1,819.3C1249.3,819.0 1253.0,816.8 1254.4,815.6C1255.8,814.4 1259.5,809.3 1260.7,808.0C1261.9,806.7 1264.3,803.8 1265.7,803.5C1267.1,803.2 1271.7,805.6 1273.2,805.0C1274.7,804.4 1278.3,799.9 1279.5,798.0C1280.7,796.1 1283.5,790.8 1284.5,788.0C1285.5,785.2 1287.6,777.3 1288.3,772.9C1289.0,768.5 1290.2,754.4 1290.8,747.8C1291.3,741.2 1292.8,720.1 1293.3,712.6C1293.8,705.1 1294.9,688.0 1295.3,680.0C1295.7,672.0 1296.7,648.8 1297.0,640.0C1297.3,631.2 1297.7,611.0 1298.0,600.0C1298.3,589.0 1299.2,551.0 1299.3,540.0C1299.4,529.0 1299.1,513.2 1299.3,500.0C1299.5,486.8 1300.7,431.0 1300.9,420.0C1301.1,409.0 1301.2,406.2 1301.4,400.0C1301.6,393.8 1302.0,372.6 1302.4,364.0C1302.8,355.4 1304.7,322.0 1305.4,322.0C1306.1,322.0 1308.0,355.4 1308.4,364.0C1308.8,372.6 1309.3,393.8 1309.4,400.0C1309.5,406.2 1309.5,409.0 1309.6,420.0C1309.7,431.0 1310.2,486.8 1310.4,500.0C1310.6,513.2 1311.1,529.0 1311.3,540.0C1311.5,551.0 1312.2,585.7 1312.5,600.0C1312.8,614.3 1313.7,657.1 1314.2,670.0C1314.7,682.9 1316.6,709.4 1317.2,717.7C1317.8,726.0 1319.2,740.1 1319.7,745.3C1320.2,750.5 1321.5,761.3 1322.2,765.4C1322.9,769.5 1325.3,780.0 1326.0,783.0C1326.7,786.0 1328.2,791.4 1329.0,793.0C1329.8,794.6 1332.2,797.0 1333.5,797.5C1334.8,798.0 1339.5,798.0 1341.0,798.0C1342.5,798.0 1345.9,797.0 1347.3,797.5C1348.7,798.0 1352.4,801.4 1353.6,803.0C1354.8,804.6 1357.6,810.0 1358.6,811.8C1359.6,813.6 1361.3,818.0 1362.4,819.3C1363.5,820.6 1367.1,822.9 1368.6,823.6C1370.1,824.3 1374.5,825.0 1376.2,825.6C1377.9,826.2 1381.8,828.9 1383.7,829.4C1385.6,829.9 1391.5,830.3 1393.7,830.6C1395.9,830.9 1401.6,831.7 1403.8,831.9C1406.0,832.1 1411.7,832.3 1413.8,832.6C1415.9,832.9 1420.7,834.4 1422.6,834.4C1424.5,834.4 1429.3,832.7 1431.4,832.6C1433.5,832.5 1439.7,833.2 1441.5,833.7C1443.3,834.2 1446.0,836.9 1447.7,836.9C1449.4,836.9 1454.4,834.1 1456.5,833.7C1458.6,833.3 1464.4,833.8 1466.6,833.7C1468.8,833.6 1474.4,833.4 1476.6,833.2C1478.8,833.0 1484.9,832.2 1486.6,831.9C1488.3,831.6 1490.6,830.4 1491.7,830.6C1492.8,830.8 1495.6,833.6 1496.7,833.7C1497.8,833.8 1500.0,831.2 1501.7,831.1C1503.4,831.0 1509.5,832.3 1511.7,832.6C1513.9,832.9 1519.9,833.5 1521.8,833.7C1523.7,833.9 1528.5,834.3 1529.3,834.4"/>
<path d="M118.8,617.2C119.3,616.8 122.1,613.6 123.1,613.9C124.1,614.2 126.4,618.4 127.6,619.7C128.8,621.0 132.5,624.3 133.9,625.5C135.3,626.7 139.0,630.5 140.2,631.0C141.4,631.5 144.1,630.1 145.2,630.5C146.3,630.9 149.0,635.0 150.2,634.7C151.4,634.4 155.1,629.6 156.5,628.0C157.9,626.4 161.6,622.0 162.8,620.4C164.0,618.8 166.8,614.4 167.8,613.4C168.8,612.4 170.5,611.3 171.6,611.6C172.7,611.9 176.4,615.4 177.8,615.9C179.2,616.4 182.6,615.1 184.1,615.9C185.6,616.7 190.1,621.2 191.6,623.4C193.1,625.6 196.7,633.8 197.9,636.0C199.1,638.2 201.7,641.3 202.9,643.5C204.1,645.7 208.0,653.8 209.2,656.1C210.4,658.4 213.1,662.9 214.2,664.1C215.3,665.3 217.9,666.7 219.3,666.6C220.7,666.5 225.2,664.7 226.8,663.6C228.5,662.5 232.6,658.1 234.3,656.6C236.0,655.1 240.4,650.9 241.9,650.3C243.4,649.7 246.7,650.9 248.1,651.1C249.5,651.3 253.0,651.3 254.4,652.3C255.8,653.3 259.3,658.1 260.7,659.9C262.1,661.7 265.6,667.6 267.0,669.1C268.4,670.6 271.7,673.5 273.2,673.7C274.7,673.9 279.3,672.0 280.8,671.2C282.3,670.4 285.8,667.0 287.0,666.6C288.2,666.2 290.9,666.8 292.1,667.4C293.3,668.0 296.9,671.3 298.3,671.7C299.7,672.1 302.9,670.8 304.6,671.2C306.3,671.6 311.6,673.9 313.4,674.9C315.2,675.9 319.0,679.0 320.9,679.9C322.8,680.8 328.8,683.1 331.0,683.2C333.2,683.3 338.9,681.0 341.0,680.7C343.1,680.4 348.1,681.5 349.8,680.7C351.5,679.9 354.7,674.8 356.1,673.2C357.5,671.6 361.2,667.7 362.4,666.6C363.6,665.5 366.2,663.7 367.4,663.6C368.6,663.5 372.2,665.1 373.7,665.4C375.2,665.7 379.7,665.1 381.2,666.1C382.7,667.1 386.0,673.5 387.5,674.9C389.0,676.3 393.4,677.5 395.0,678.7C396.6,679.9 400.7,684.9 402.5,685.7C404.3,686.5 409.6,685.7 411.3,686.2C413.0,686.7 416.1,689.5 417.6,690.0C419.1,690.5 423.4,690.8 425.1,690.7C426.8,690.6 431.0,689.7 432.7,688.7C434.4,687.7 438.7,684.1 440.2,681.7C441.7,679.3 445.3,669.3 446.5,666.6C447.7,663.9 450.4,658.5 451.5,657.3C452.6,656.1 455.3,655.3 456.5,655.6C457.7,655.9 461.4,659.7 462.8,659.9C464.2,660.1 467.9,658.3 469.1,657.3C470.3,656.3 473.1,652.0 474.1,651.1C475.1,650.2 476.8,648.6 477.9,649.1C479.0,649.6 482.9,655.1 484.1,656.1C485.3,657.1 488.1,657.1 489.2,658.1C490.3,659.1 493.0,663.9 494.2,664.9C495.4,665.9 499.1,667.8 500.5,667.4C501.9,667.0 505.5,661.9 506.7,661.1C507.9,660.3 510.6,659.4 511.7,660.4C512.8,661.4 515.7,667.9 516.8,669.9C517.9,671.9 520.7,677.1 521.8,678.2C522.9,679.3 525.8,680.8 526.8,679.9C527.8,679.0 529.8,672.2 530.6,669.9C531.4,667.6 533.5,660.0 534.3,658.6C535.1,657.2 537.3,655.6 538.1,657.3C538.9,659.0 541.1,670.7 541.9,673.7C542.7,676.7 544.6,683.4 545.6,685.0C546.6,686.6 549.5,688.6 550.7,688.7C551.9,688.8 555.5,686.6 556.9,686.2C558.3,685.8 562.1,685.8 563.2,685.0C564.3,684.2 566.2,681.2 567.0,678.7C567.8,676.2 570.0,664.5 570.8,662.4C571.6,660.3 573.5,659.5 574.5,659.9C575.5,660.3 578.3,664.6 579.5,665.6C580.7,666.6 584.6,667.4 585.8,668.6C587.0,669.8 589.8,675.4 590.8,676.2C591.8,677.0 593.6,677.0 594.6,676.2C595.6,675.4 598.6,670.1 599.6,668.6C600.6,667.1 602.6,662.9 603.4,662.4C604.2,661.9 606.4,662.2 607.2,664.1C608.0,666.0 609.9,677.2 610.9,679.9C611.9,682.6 614.7,687.6 615.9,688.7C617.1,689.8 620.7,689.7 622.2,690.0C623.7,690.3 628.1,690.8 629.8,691.2C631.5,691.6 635.4,693.5 637.6,693.7C639.8,693.9 647.6,693.3 650.1,693.2C652.6,693.1 658.5,692.4 660.2,692.5C661.9,692.6 664.0,694.8 665.2,694.3C666.4,693.8 670.3,689.2 671.5,687.5C672.7,685.8 675.5,679.7 676.5,678.7C677.5,677.7 679.3,677.8 680.3,678.2C681.3,678.6 684.2,681.6 685.3,682.5C686.4,683.4 689.2,685.8 690.3,686.2C691.4,686.6 694.1,686.9 695.3,686.2C696.5,685.5 700.5,682.1 701.6,679.9C702.7,677.7 704.7,670.1 705.4,666.1C706.1,662.1 707.4,650.1 707.9,643.5C708.4,636.9 709.8,613.9 710.4,605.9C711.0,597.9 712.9,575.1 713.4,570.7C713.9,566.3 715.0,565.4 715.4,565.7C715.8,566.0 716.9,568.8 717.4,573.2C717.9,577.6 719.7,598.4 720.4,605.9C721.1,613.4 723.4,634.1 724.2,641.0C725.0,647.9 726.9,664.0 727.5,668.6C728.1,673.2 729.1,680.7 730.0,682.5C730.9,684.3 734.3,684.2 735.5,685.0C736.7,685.8 738.8,689.3 740.5,690.0C742.2,690.7 748.4,690.8 750.6,691.2C752.8,691.6 757.8,693.3 760.6,693.7C763.4,694.1 773.1,694.7 775.7,695.0C778.3,695.3 782.2,697.0 784.4,696.8C786.6,696.6 793.3,693.6 795.7,693.2C798.1,692.8 803.6,692.6 805.8,693.0C808.0,693.4 813.6,696.6 815.8,696.8C818.0,697.0 823.7,695.1 825.9,695.0C828.1,694.9 833.7,695.6 835.9,695.8C838.1,696.0 843.8,696.8 846.0,696.8C848.2,696.8 854.1,695.8 856.0,695.8C857.9,695.8 861.6,696.9 863.5,696.8C865.4,696.7 871.4,694.8 873.6,694.5C875.8,694.2 881.4,694.1 883.6,693.7C885.8,693.3 891.8,691.5 893.7,690.7C895.6,689.9 899.8,688.2 901.2,686.7C902.6,685.2 905.2,679.4 906.2,677.4C907.2,675.4 909.2,669.9 910.0,668.6C910.8,667.3 912.6,665.6 913.7,665.6C914.8,665.6 918.9,669.1 920.0,668.6C921.1,668.1 923.2,664.4 923.8,661.1C924.4,657.8 925.3,644.8 925.8,638.5C926.3,632.2 927.8,610.3 928.3,603.4C928.8,596.5 930.3,579.5 930.8,575.7C931.3,571.9 932.2,568.7 932.6,568.7C933.0,568.7 933.8,571.6 934.3,575.7C934.8,579.8 936.2,598.7 936.8,605.9C937.4,613.1 938.8,634.1 939.4,641.0C940.0,647.9 941.4,664.5 941.9,668.6C942.4,672.7 943.1,676.6 943.9,678.7C944.7,680.8 947.5,686.1 948.9,687.5C950.3,688.9 954.7,690.9 956.4,691.7C958.1,692.5 962.1,694.4 964.0,695.0C965.9,695.6 971.8,697.4 974.0,697.5C976.2,697.6 981.8,696.2 984.0,696.3C986.2,696.4 991.6,698.0 994.1,698.3C996.6,698.6 1003.6,699.4 1006.6,699.3C1009.6,699.2 1018.7,697.8 1021.7,697.5C1024.7,697.2 1031.5,696.9 1034.3,696.8C1037.1,696.7 1044.3,696.5 1046.8,696.3C1049.3,696.1 1054.7,694.9 1056.9,695.0C1059.1,695.1 1064.4,696.7 1066.9,696.8C1069.4,696.9 1077.0,696.1 1079.5,695.8C1082.0,695.5 1087.4,694.1 1089.5,693.7C1091.6,693.3 1096.5,693.4 1098.3,692.5C1100.1,691.6 1104.3,687.6 1105.8,685.7C1107.3,683.8 1110.6,677.0 1112.1,674.9C1113.6,672.8 1117.9,668.4 1119.6,666.6C1121.3,664.8 1125.7,661.0 1127.2,658.6C1128.7,656.2 1132.2,647.8 1133.4,644.8C1134.6,641.8 1137.5,634.2 1138.5,631.0C1139.5,627.8 1141.5,620.3 1142.2,615.9C1142.9,611.5 1144.2,596.9 1144.7,590.8C1145.2,584.7 1146.6,566.8 1147.2,560.7C1147.8,554.6 1149.5,538.9 1149.8,535.6C1150.1,532.3 1149.8,531.6 1150.2,530.6C1150.6,529.6 1152.5,526.2 1153.2,526.8C1153.9,527.3 1155.7,532.4 1156.5,535.6C1157.3,538.8 1159.3,554.2 1160.3,555.7C1161.3,557.2 1164.8,549.4 1165.8,549.4C1166.8,549.4 1168.2,552.8 1169.0,555.7C1169.8,558.6 1172.0,570.7 1172.8,575.7C1173.6,580.7 1175.8,595.4 1176.6,600.9C1177.4,606.4 1179.5,620.5 1180.3,626.0C1181.1,631.5 1183.3,646.7 1184.1,651.1C1184.9,655.5 1187.1,663.2 1187.9,666.1C1188.7,669.0 1190.6,675.6 1191.6,677.4C1192.6,679.2 1195.5,681.6 1196.7,682.5C1197.9,683.4 1201.5,686.1 1202.9,685.7C1204.3,685.3 1207.7,680.1 1209.2,678.7C1210.7,677.3 1215.3,673.3 1216.7,673.2C1218.1,673.1 1220.8,676.1 1221.8,677.4C1222.8,678.7 1224.7,683.6 1225.5,685.0C1226.3,686.4 1228.2,689.5 1229.3,690.0C1230.4,690.5 1234.1,690.1 1235.6,690.0C1237.1,689.9 1241.4,688.9 1243.1,688.7C1244.8,688.5 1249.1,688.6 1250.6,688.2C1252.1,687.8 1255.4,686.5 1256.9,685.0C1258.4,683.5 1262.9,675.0 1264.4,674.2C1265.9,673.4 1269.5,677.2 1270.7,677.4C1271.9,677.6 1274.3,677.0 1275.7,676.2C1277.1,675.4 1281.6,672.0 1283.0,670.0C1284.4,668.0 1287.2,660.2 1288.0,657.7C1288.8,655.2 1289.6,649.7 1290.0,647.4C1290.4,645.1 1291.6,639.8 1292.0,637.0C1292.4,634.2 1293.3,626.0 1293.6,622.0C1293.9,618.0 1294.4,605.5 1294.6,601.0C1294.8,596.5 1295.4,585.5 1295.6,581.0C1295.8,576.5 1296.2,564.5 1296.5,560.0C1296.8,555.5 1297.9,546.6 1298.2,540.0C1298.5,533.4 1298.8,513.2 1299.0,500.0C1299.2,486.8 1299.6,435.0 1299.8,420.0C1300.0,405.0 1300.2,375.0 1300.5,364.0C1300.8,353.0 1302.2,328.5 1302.5,320.0C1302.8,311.5 1303.3,298.0 1303.5,287.0C1303.7,276.0 1304.3,234.2 1304.5,220.0C1304.7,205.8 1305.4,158.0 1305.6,158.0C1305.8,158.0 1306.5,205.8 1306.7,220.0C1306.9,234.2 1307.3,276.0 1307.5,287.0C1307.7,298.0 1308.0,311.5 1308.3,320.0C1308.6,328.5 1310.1,353.0 1310.5,364.0C1310.9,375.0 1311.3,405.0 1311.5,420.0C1311.7,435.0 1311.9,486.8 1312.0,500.0C1312.1,513.2 1312.6,532.2 1312.8,540.0C1313.0,547.8 1313.9,565.1 1314.2,570.7C1314.5,576.3 1315.4,587.1 1315.7,591.0C1316.0,594.9 1316.4,603.7 1316.7,606.5C1317.0,609.3 1317.7,613.9 1318.2,616.7C1318.7,619.5 1320.4,629.2 1321.0,632.0C1321.6,634.8 1323.4,639.5 1324.0,642.3C1324.6,645.1 1325.9,654.8 1326.5,657.7C1327.1,660.6 1328.7,666.8 1329.7,668.6C1330.7,670.4 1334.5,673.4 1336.0,673.7C1337.5,674.0 1342.1,671.6 1343.5,671.2C1344.9,670.8 1347.6,670.6 1348.6,669.9C1349.6,669.2 1351.5,665.0 1352.3,664.9C1353.1,664.8 1355.3,667.0 1356.1,668.6C1356.9,670.2 1358.9,677.4 1359.9,679.9C1360.9,682.4 1363.4,689.7 1364.9,691.2C1366.4,692.7 1371.8,692.4 1373.7,693.2C1375.6,694.0 1380.3,697.7 1382.5,698.3C1384.7,698.9 1391.4,698.6 1393.7,698.8C1396.0,699.0 1401.9,699.6 1403.8,700.0C1405.7,700.4 1409.4,702.4 1411.3,702.5C1413.2,702.6 1418.9,701.1 1421.4,700.8C1423.9,700.5 1431.1,699.9 1433.9,700.0C1436.7,700.1 1444.0,701.2 1446.5,701.3C1449.0,701.4 1454.3,701.4 1456.5,701.3C1458.7,701.2 1464.1,700.3 1466.6,700.0C1469.1,699.7 1476.6,698.7 1479.1,698.8C1481.6,698.9 1486.7,700.7 1489.2,700.8C1491.7,700.9 1498.9,700.1 1501.7,700.0C1504.5,699.9 1511.8,699.7 1514.3,700.0C1516.8,700.3 1522.6,702.4 1524.3,702.5C1526.0,702.6 1528.8,701.4 1529.3,701.3"/>
<path d="M118.8,460.3C119.1,459.9 120.6,456.5 121.3,456.5C122.0,456.5 124.3,458.9 125.1,460.3C125.9,461.7 128.1,466.7 128.9,469.0C129.7,471.3 131.6,479.7 132.6,481.6C133.6,483.5 136.5,485.9 137.7,486.6C138.9,487.3 142.8,487.7 143.9,488.4C145.0,489.1 146.9,492.6 147.7,493.4C148.5,494.2 150.3,495.3 151.5,495.4C152.7,495.5 157.5,495.0 159.0,494.2C160.5,493.4 163.9,489.1 165.3,487.9C166.7,486.7 169.9,484.2 171.6,483.6C173.2,483.0 178.7,481.8 180.3,482.1C182.0,482.4 185.2,485.4 186.6,486.6C188.0,487.8 191.5,491.7 192.9,493.4C194.3,495.1 197.8,500.0 199.2,501.7C200.6,503.4 204.0,507.3 205.4,509.2C206.8,511.1 210.5,517.7 211.7,519.3C212.9,520.9 215.5,522.9 216.7,523.5C217.9,524.1 221.6,525.0 223.0,524.8C224.4,524.6 227.9,522.7 229.3,521.8C230.7,520.9 234.1,517.6 235.6,516.7C237.1,515.8 241.4,513.6 243.1,513.5C244.8,513.4 249.1,514.5 250.6,515.5C252.1,516.5 255.5,520.9 256.9,522.3C258.3,523.7 261.8,526.5 263.2,528.0C264.6,529.5 268.0,535.2 269.5,536.3C271.0,537.4 275.5,537.7 277.0,537.6C278.5,537.5 282.1,536.1 283.3,535.6C284.5,535.1 287.1,533.0 288.3,533.1C289.5,533.2 292.9,536.3 294.6,536.8C296.3,537.3 301.5,537.3 303.4,537.6C305.3,537.9 310.6,538.6 312.2,539.3C313.8,540.0 317.2,543.8 318.4,544.4C319.6,545.0 322.3,544.7 323.4,545.1C324.5,545.5 327.4,547.9 328.5,548.1C329.6,548.3 332.4,546.8 333.5,546.9C334.6,547.0 337.1,549.1 338.5,548.9C339.9,548.7 344.3,545.9 346.0,545.1C347.7,544.3 351.9,542.9 353.6,541.4C355.3,539.9 359.6,532.1 361.1,531.1C362.6,530.1 366.0,532.5 367.4,532.6C368.8,532.7 372.3,532.1 373.7,531.8C375.1,531.5 378.5,530.0 379.9,530.1C381.3,530.2 384.8,532.2 386.2,533.1C387.6,534.0 391.3,537.4 392.5,538.6C393.7,539.8 396.3,542.8 397.5,543.6C398.7,544.4 402.3,544.8 403.8,545.6C405.3,546.4 409.8,549.5 411.3,550.6C412.8,551.7 416.1,555.1 417.6,555.7C419.1,556.3 423.4,555.9 425.1,555.7C426.8,555.5 431.0,554.5 432.7,553.7C434.4,552.9 438.6,549.5 440.2,548.1C441.8,546.7 446.3,542.9 447.7,541.1C449.1,539.3 451.6,533.0 452.7,531.8C453.8,530.6 456.8,530.5 457.8,530.6C458.8,530.7 460.7,532.6 461.5,533.1C462.3,533.6 464.3,535.9 465.3,535.6C466.3,535.3 469.1,531.4 470.3,530.6C471.5,529.8 475.4,528.6 476.6,528.0C477.8,527.4 480.4,524.9 481.6,525.5C482.8,526.1 486.5,532.3 487.9,533.1C489.3,533.9 493.1,532.7 494.2,533.1C495.3,533.5 496.9,536.4 497.9,536.8C498.9,537.2 501.9,536.9 503.0,536.3C504.1,535.7 506.9,531.8 508.0,531.1C509.1,530.4 511.9,529.2 513.0,530.1C514.1,531.0 516.9,537.6 518.0,539.3C519.1,540.9 522.0,544.5 523.0,545.1C524.0,545.7 526.0,545.7 526.8,544.4C527.6,543.1 529.8,535.5 530.6,533.1C531.4,530.7 533.5,524.0 534.3,523.0C535.1,522.0 537.3,522.4 538.1,524.3C538.9,526.2 541.1,537.6 541.9,540.6C542.7,543.6 544.6,550.4 545.6,551.9C546.6,553.4 549.3,553.8 550.7,553.9C552.1,554.0 556.8,553.8 558.2,553.2C559.6,552.6 562.0,549.3 563.2,548.1C564.4,546.9 568.1,543.7 569.5,541.9C570.9,540.1 574.6,532.5 575.8,531.8C577.0,531.1 579.7,534.5 580.8,535.1C581.9,535.7 584.6,536.6 585.8,537.6C587.0,538.6 590.9,543.4 592.1,543.9C593.3,544.4 596.0,542.7 597.1,541.9C598.2,541.1 601.0,536.7 602.1,536.3C603.2,535.9 606.2,536.7 607.2,538.1C608.2,539.5 609.9,547.7 610.9,549.4C611.9,551.1 614.7,553.1 615.9,553.9C617.1,554.7 621.0,556.7 622.2,556.9C623.4,557.1 625.9,555.7 627.2,555.7C628.5,555.7 632.4,556.5 633.8,556.9C635.2,557.3 638.6,559.3 640.1,559.4C641.6,559.5 646.0,557.8 647.6,557.7C649.2,557.6 653.4,558.8 655.1,558.7C656.8,558.6 661.0,557.3 662.7,556.9C664.4,556.5 668.8,556.4 670.2,555.2C671.6,554.0 674.2,547.1 675.2,545.6C676.2,544.1 678.2,541.9 679.0,541.9C679.8,541.9 681.8,544.4 682.8,545.6C683.8,546.8 686.7,552.1 687.8,552.6C688.9,553.1 691.7,551.0 692.8,550.6C693.9,550.2 696.7,550.5 697.8,549.4C698.9,548.3 701.9,543.2 702.9,540.6C703.9,538.0 705.9,529.9 706.6,525.5C707.3,521.1 708.6,507.3 709.1,500.4C709.6,493.5 711.0,470.5 711.6,462.8C712.2,455.1 713.8,434.5 714.2,430.1C714.6,425.7 715.1,422.6 715.4,422.6C715.7,422.6 716.7,425.7 717.2,430.1C717.7,434.5 719.1,455.1 719.7,462.8C720.3,470.5 722.3,493.8 722.9,500.4C723.5,507.0 724.7,518.3 725.4,523.0C726.1,527.7 728.2,540.1 729.2,543.1C730.2,546.1 733.0,548.9 734.2,550.1C735.4,551.3 739.0,553.4 740.5,554.4C742.0,555.4 746.3,558.6 748.0,558.9C749.7,559.2 753.7,556.9 755.6,556.9C757.5,556.9 763.4,558.2 765.6,558.7C767.8,559.2 773.5,560.8 775.7,561.2C777.9,561.6 783.5,562.5 785.7,562.4C787.9,562.3 793.6,560.3 795.7,559.9C797.8,559.5 802.6,558.5 804.5,558.9C806.4,559.3 811.2,563.1 813.3,563.7C815.4,564.3 820.9,564.5 823.4,564.4C825.9,564.3 832.9,563.4 835.9,563.2C838.9,563.0 848.2,562.6 851.0,562.7C853.8,562.8 858.8,564.5 861.0,564.4C863.2,564.3 869.4,561.4 871.1,561.4C872.8,561.4 874.5,564.3 876.1,564.4C877.8,564.5 884.0,562.7 886.1,561.9C888.2,561.1 893.1,558.1 894.9,557.4C896.7,556.7 901.0,556.5 902.5,555.2C904.0,553.9 907.5,547.3 908.7,545.6C909.9,543.9 912.5,540.3 913.7,539.3C914.9,538.3 918.9,538.0 920.0,536.8C921.1,535.6 923.1,531.5 923.8,528.0C924.5,524.5 925.8,511.7 926.3,505.4C926.8,499.1 928.2,477.5 928.8,470.3C929.3,463.1 930.9,444.1 931.3,440.2C931.7,436.3 932.3,434.8 932.6,435.1C932.9,435.4 933.8,438.6 934.3,442.7C934.8,446.8 936.2,465.3 936.8,472.8C937.4,480.3 939.5,503.9 940.1,510.5C940.7,517.1 941.9,529.2 942.6,533.1C943.3,537.0 945.4,543.3 946.4,545.6C947.4,547.9 950.0,553.2 951.4,554.4C952.8,555.6 957.2,556.1 958.9,556.9C960.6,557.7 964.6,561.4 966.5,561.9C968.4,562.4 974.6,562.0 976.5,561.9C978.4,561.8 982.3,560.4 984.0,560.7C985.7,561.0 989.7,563.9 991.6,564.4C993.5,564.9 999.4,565.7 1001.6,565.7C1003.8,565.7 1009.2,564.4 1011.7,564.4C1014.2,564.4 1021.7,565.8 1024.2,565.7C1026.7,565.6 1032.1,563.3 1034.3,563.2C1036.5,563.1 1042.1,564.5 1044.3,564.4C1046.5,564.3 1052.4,562.4 1054.3,561.9C1056.2,561.4 1060.0,559.5 1061.9,559.4C1063.8,559.3 1069.7,560.7 1071.9,560.7C1074.1,560.7 1079.8,559.7 1082.0,559.4C1084.2,559.1 1090.1,558.3 1092.0,557.7C1093.9,557.1 1097.8,554.6 1099.5,553.7C1101.2,552.8 1105.6,550.8 1107.1,549.4C1108.6,548.0 1111.8,542.4 1113.3,540.6C1114.8,538.8 1119.4,534.9 1120.9,533.1C1122.4,531.3 1125.8,526.2 1127.2,524.3C1128.6,522.4 1132.2,518.1 1133.4,515.5C1134.6,512.9 1137.5,503.7 1138.5,500.4C1139.5,497.1 1141.5,489.5 1142.2,485.4C1142.9,481.3 1144.2,468.0 1144.7,462.8C1145.2,457.6 1146.6,442.3 1147.2,437.7C1147.8,433.1 1149.5,423.2 1149.8,421.3C1150.1,419.4 1149.8,420.8 1150.2,420.1C1150.6,419.4 1152.8,415.0 1153.5,415.1C1154.2,415.2 1155.8,419.8 1156.5,421.3C1157.2,422.8 1159.0,428.8 1159.8,428.9C1160.6,429.0 1163.3,424.3 1164.0,422.6C1164.7,420.9 1166.0,414.9 1166.5,413.8C1167.0,412.7 1168.4,411.6 1169.0,412.6C1169.6,413.6 1171.0,419.6 1171.6,422.6C1172.2,425.6 1173.4,435.2 1174.1,440.2C1174.8,445.2 1177.0,461.5 1177.8,467.8C1178.6,474.1 1180.8,492.1 1181.6,497.9C1182.4,503.7 1184.6,516.1 1185.4,520.5C1186.2,524.9 1188.1,535.1 1189.1,538.1C1190.1,541.1 1193.0,546.6 1194.2,548.1C1195.4,549.6 1199.0,551.9 1200.4,551.9C1201.8,551.9 1205.5,549.1 1206.7,548.1C1207.9,547.1 1210.5,543.8 1211.7,542.6C1212.9,541.4 1216.8,537.5 1218.0,537.6C1219.2,537.7 1221.9,541.8 1223.0,543.1C1224.1,544.4 1226.9,548.6 1228.0,549.4C1229.1,550.2 1232.0,550.6 1233.1,550.6C1234.2,550.6 1237.0,549.3 1238.1,549.4C1239.2,549.5 1241.9,551.2 1243.1,551.1C1244.3,551.0 1248.0,549.1 1249.4,548.6C1250.8,548.1 1254.2,547.9 1255.7,546.9C1257.2,545.9 1261.7,540.0 1263.2,539.3C1264.7,538.6 1268.1,540.1 1269.5,540.1C1270.9,540.1 1274.3,540.2 1275.7,539.3C1277.1,538.4 1280.8,534.4 1282.0,531.8C1283.2,529.2 1286.0,519.8 1287.0,515.5C1288.0,511.2 1290.1,498.4 1290.8,492.9C1291.5,487.4 1293.2,471.7 1293.8,465.3C1294.3,458.9 1295.5,442.2 1295.8,435.0C1296.1,427.8 1296.3,407.8 1296.6,400.0C1296.9,392.2 1297.9,376.4 1298.2,364.0C1298.5,351.6 1298.5,305.0 1299.0,287.0C1299.5,269.0 1301.8,214.7 1302.3,200.0C1302.8,185.3 1302.9,168.3 1303.1,153.0C1303.3,137.7 1303.4,72.9 1303.8,61.0C1304.2,49.1 1306.5,45.0 1306.9,45.0C1307.3,45.0 1307.3,49.1 1307.5,61.0C1307.7,72.9 1308.8,137.7 1309.0,153.0C1309.2,168.3 1309.3,185.3 1309.6,200.0C1309.9,214.7 1311.7,269.0 1312.1,287.0C1312.5,305.0 1312.8,351.6 1313.0,364.0C1313.2,376.4 1313.4,393.8 1313.6,400.0C1313.8,406.2 1314.4,414.5 1314.7,420.0C1315.0,425.5 1315.5,443.4 1315.9,450.0C1316.3,456.6 1317.7,474.8 1318.4,480.3C1319.1,485.8 1321.4,496.3 1322.2,500.4C1323.0,504.5 1325.2,514.1 1326.0,518.0C1326.8,521.9 1328.3,533.4 1329.7,535.6C1331.1,537.8 1336.7,537.2 1338.5,538.1C1340.3,539.0 1344.3,543.2 1346.0,543.6C1347.7,544.0 1352.2,541.3 1353.6,541.9C1355.0,542.5 1357.5,547.8 1358.6,549.4C1359.7,551.0 1362.2,555.8 1363.6,556.9C1365.0,558.0 1369.8,558.9 1371.2,559.4C1372.6,559.9 1374.5,561.4 1376.2,561.9C1377.9,562.4 1384.0,564.1 1386.2,564.4C1388.4,564.7 1393.8,564.1 1396.3,564.4C1398.8,564.7 1406.0,566.9 1408.8,567.0C1411.6,567.1 1419.2,565.6 1421.4,565.7C1423.6,565.8 1426.7,568.0 1428.9,568.2C1431.1,568.4 1439.0,567.8 1441.5,567.7C1444.0,567.6 1449.6,566.8 1451.5,567.0C1453.4,567.2 1456.8,569.4 1459.0,569.5C1461.2,569.6 1469.1,568.0 1471.6,567.7C1474.1,567.4 1479.7,567.3 1481.6,567.0C1483.5,566.7 1487.3,565.2 1489.2,565.2C1491.1,565.2 1496.7,566.9 1499.2,567.0C1501.7,567.1 1509.2,566.2 1511.7,566.2C1514.2,566.2 1519.9,566.8 1521.8,567.0C1523.7,567.2 1528.5,567.6 1529.3,567.7"/>
</g>
<g id="curvesB" fill="none" stroke="#000" stroke-width="5.9" stroke-linejoin="round" stroke-linecap="butt">
<path d="M1601.2,1085.8C1601.5,1085.8 1602.4,1085.9 1603.8,1085.8C1605.2,1085.7 1612.7,1085.2 1615.1,1085.0C1617.5,1084.8 1625.2,1084.3 1627.7,1084.3C1630.2,1084.3 1637.4,1084.8 1640.2,1085.0C1643.0,1085.2 1652.8,1086.3 1655.3,1086.3C1657.8,1086.3 1663.3,1085.3 1665.3,1085.0C1667.3,1084.7 1673.3,1083.8 1675.4,1083.3C1677.5,1082.8 1684.7,1080.1 1686.7,1080.0C1688.7,1079.9 1693.5,1082.4 1695.4,1082.5C1697.3,1082.6 1703.5,1081.4 1705.5,1081.3C1707.5,1081.2 1713.5,1081.4 1715.5,1081.3C1717.5,1081.2 1723.8,1080.5 1725.6,1080.0C1727.4,1079.5 1731.3,1076.5 1733.1,1075.8C1734.9,1075.0 1741.2,1073.5 1743.2,1072.5C1745.2,1071.5 1751.2,1067.2 1753.2,1066.2C1755.2,1065.2 1761.2,1063.4 1763.2,1062.5C1765.2,1061.6 1771.3,1058.4 1773.3,1057.4C1775.3,1056.4 1781.4,1053.5 1783.3,1052.4C1785.2,1051.3 1790.3,1046.8 1792.1,1046.1C1793.9,1045.3 1799.0,1045.3 1800.9,1044.9C1802.8,1044.5 1809.0,1043.2 1810.9,1042.4C1812.8,1041.6 1818.1,1038.4 1819.7,1037.3C1821.3,1036.2 1825.9,1032.7 1827.3,1031.1C1828.7,1029.5 1832.2,1023.3 1833.5,1021.0C1834.8,1018.7 1838.5,1010.8 1839.8,1008.5C1841.1,1006.2 1845.0,1000.4 1846.1,998.4C1847.2,996.4 1850.1,990.9 1851.1,988.4C1852.1,985.9 1855.1,976.3 1856.1,973.3C1857.1,970.3 1860.2,961.3 1861.2,958.3C1862.2,955.3 1865.2,946.1 1866.2,943.2C1867.2,940.3 1870.1,932.0 1871.2,929.4C1872.3,926.8 1876.2,919.4 1877.5,916.8C1878.8,914.2 1882.3,905.6 1883.7,903.0C1885.1,900.4 1889.8,892.8 1891.3,890.5C1892.8,888.2 1897.2,882.4 1898.8,880.4C1900.4,878.4 1906.1,871.6 1907.6,870.4C1909.1,869.2 1912.5,868.7 1913.9,868.4C1915.3,868.1 1920.0,867.4 1921.4,867.4C1922.8,867.4 1926.4,868.0 1927.7,868.4C1929.0,868.8 1932.9,870.5 1934.0,871.6C1935.1,872.7 1937.8,877.6 1939.0,879.2C1940.2,880.8 1945.0,886.0 1946.5,888.0C1948.0,890.0 1952.5,897.2 1954.0,899.3C1955.5,901.4 1960.2,906.9 1961.6,909.3C1963.0,911.7 1966.8,920.2 1967.9,923.1C1969.0,926.0 1972.0,934.9 1972.9,938.2C1973.8,941.5 1975.8,952.4 1976.6,955.7C1977.3,959.0 1979.6,967.0 1980.4,970.8C1981.2,974.6 1983.5,989.1 1984.2,993.4C1985.0,997.7 1987.2,1009.7 1987.9,1013.5C1988.7,1017.3 1990.8,1027.6 1991.7,1031.1C1992.6,1034.6 1995.6,1045.8 1996.7,1048.6C1997.8,1051.4 2001.5,1056.8 2003.0,1058.7C2004.5,1060.6 2009.9,1066.5 2011.8,1067.5C2013.7,1068.5 2019.3,1069.1 2021.8,1069.2C2024.3,1069.3 2034.4,1069.1 2036.9,1068.7C2039.4,1068.3 2045.1,1065.9 2046.9,1065.0C2048.7,1064.1 2052.9,1060.9 2054.5,1059.7C2056.1,1058.5 2061.8,1054.1 2063.3,1052.7C2064.9,1051.3 2069.0,1046.8 2070.0,1046.1C2071.0,1045.4 2072.7,1046.1 2073.0,1046.1"/>
<path d="M1601.2,896.7C1601.5,896.7 1602.7,897.0 1603.8,896.7C1604.9,896.5 1610.7,894.4 1612.6,894.2C1614.5,894.0 1620.3,894.9 1622.6,895.0C1624.9,895.1 1632.7,895.0 1635.2,895.0C1637.7,895.0 1645.4,895.0 1647.7,895.0C1650.0,895.0 1656.0,895.2 1657.8,895.5C1659.6,895.8 1663.5,898.0 1665.3,898.0C1667.1,898.0 1673.4,896.0 1675.4,895.5C1677.4,895.0 1683.4,893.3 1685.4,893.0C1687.4,892.7 1693.4,892.5 1695.4,892.5C1697.4,892.5 1703.5,892.6 1705.5,892.5C1707.5,892.4 1713.5,891.9 1715.5,891.7C1717.5,891.5 1723.8,891.1 1725.6,890.5C1727.4,889.9 1731.6,886.3 1733.1,885.4C1734.6,884.5 1739.2,882.6 1740.6,881.7C1742.0,880.8 1745.6,877.8 1746.9,876.7C1748.2,875.6 1751.8,871.3 1753.2,870.4C1754.6,869.5 1759.2,868.9 1760.7,867.9C1762.2,866.9 1766.7,861.6 1768.3,860.3C1769.9,859.0 1775.2,855.9 1777.0,855.3C1778.8,854.7 1784.2,854.5 1785.8,854.1C1787.4,853.7 1791.8,852.4 1793.4,851.6C1795.0,850.8 1800.5,846.8 1802.2,845.8C1804.0,844.8 1809.2,842.4 1810.9,841.5C1812.7,840.6 1818.1,838.0 1819.7,836.5C1821.3,835.0 1825.8,828.5 1827.3,826.4C1828.8,824.3 1833.4,817.4 1834.8,815.1C1836.2,812.9 1840.0,806.5 1841.1,803.9C1842.2,801.3 1845.1,791.8 1846.1,788.8C1847.1,785.8 1850.1,776.7 1851.1,773.7C1852.1,770.7 1855.2,761.7 1856.1,758.7C1857.0,755.7 1859.1,746.9 1859.9,743.6C1860.7,740.3 1863.0,729.8 1863.7,726.0C1864.5,722.2 1866.7,710.5 1867.4,706.0C1868.2,701.5 1870.4,685.7 1871.2,680.9C1872.0,676.1 1874.2,662.8 1875.0,658.3C1875.8,653.8 1878.0,640.5 1878.7,635.7C1879.5,630.9 1881.7,615.4 1882.5,610.6C1883.3,605.8 1885.5,592.0 1886.3,588.0C1887.0,584.0 1889.4,573.2 1890.0,570.4C1890.6,567.6 1892.0,562.0 1892.5,560.3C1893.0,558.6 1894.4,553.4 1895.0,553.3C1895.6,553.2 1898.0,557.8 1898.8,559.1C1899.6,560.4 1901.8,564.2 1902.6,566.6C1903.3,569.0 1905.5,579.8 1906.3,582.9C1907.0,586.0 1909.3,595.2 1910.1,598.0C1910.9,600.8 1913.2,608.7 1913.9,610.6C1914.7,612.5 1916.6,615.7 1917.6,616.8C1918.6,617.9 1922.5,621.4 1923.9,621.9C1925.3,622.4 1929.9,621.5 1931.5,621.9C1933.1,622.3 1938.6,624.6 1940.2,625.6C1941.8,626.6 1946.7,630.1 1947.8,631.9C1948.9,633.7 1950.8,640.8 1951.5,643.2C1952.2,645.6 1954.5,651.9 1955.3,655.7C1956.1,659.5 1958.3,675.9 1959.1,680.9C1959.8,685.9 1962.0,701.2 1962.8,706.0C1963.5,710.8 1965.8,724.1 1966.6,728.6C1967.4,733.1 1969.7,746.7 1970.4,751.2C1971.2,755.7 1973.3,769.7 1974.1,773.7C1974.8,777.7 1976.9,787.4 1977.9,791.3C1978.9,795.2 1983.2,808.7 1984.2,812.6C1985.2,816.5 1987.2,826.9 1987.9,830.2C1988.7,833.5 1990.8,842.5 1991.7,845.3C1992.6,848.1 1995.4,855.7 1996.7,857.8C1998.0,859.9 2002.7,865.0 2004.3,866.6C2005.9,868.2 2011.0,873.4 2013.0,874.2C2015.0,875.0 2021.8,874.2 2024.3,874.2C2026.8,874.2 2036.2,875.0 2038.2,874.2C2040.2,873.4 2042.9,868.0 2044.4,866.6C2045.9,865.2 2051.4,861.8 2053.2,860.3C2055.0,858.8 2060.3,853.2 2062.0,851.6C2063.7,850.0 2068.9,844.8 2070.0,844.0C2071.1,843.2 2072.7,844.0 2073.0,844.0"/>
<path d="M1601.2,707.2C1601.5,707.2 1602.7,707.5 1603.8,707.2C1604.9,707.0 1611.0,705.0 1612.6,704.7C1614.2,704.5 1618.6,704.3 1620.1,704.7C1621.6,705.1 1626.2,708.1 1627.7,708.5C1629.2,708.9 1633.5,709.1 1635.2,709.0C1637.0,708.9 1642.9,707.3 1645.2,707.2C1647.5,707.1 1655.3,707.9 1657.8,708.0C1660.3,708.1 1668.0,708.1 1670.3,708.0C1672.6,707.9 1678.4,707.7 1680.4,707.2C1682.4,706.7 1688.4,703.5 1690.4,702.9C1692.4,702.3 1698.5,701.1 1700.5,700.9C1702.5,700.7 1708.8,700.9 1710.5,700.9C1712.2,700.9 1716.5,700.9 1718.0,700.4C1719.5,699.9 1724.1,696.9 1725.6,695.9C1727.1,694.9 1731.3,691.4 1733.1,690.4C1734.9,689.4 1741.2,687.5 1743.2,686.4C1745.2,685.3 1751.3,680.9 1753.2,679.6C1755.1,678.3 1760.5,674.6 1762.0,673.3C1763.5,672.0 1766.8,668.2 1768.3,667.0C1769.8,665.8 1775.2,662.5 1777.0,661.3C1778.8,660.1 1784.2,656.3 1785.8,655.2C1787.4,654.1 1791.8,651.5 1793.4,650.7C1795.0,649.9 1800.6,648.0 1802.2,647.0C1803.8,646.0 1808.3,642.1 1809.7,640.7C1811.1,639.3 1814.6,635.1 1816.0,633.2C1817.4,631.3 1822.0,624.2 1823.5,621.9C1825.0,619.6 1829.6,612.7 1831.0,610.6C1832.4,608.5 1836.2,602.8 1837.3,600.5C1838.4,598.2 1841.4,590.8 1842.3,588.0C1843.2,585.2 1845.3,576.4 1846.1,572.9C1846.9,569.4 1849.2,557.1 1849.9,552.8C1850.7,548.5 1852.8,534.7 1853.6,530.2C1854.3,525.7 1856.6,511.9 1857.4,507.6C1858.2,503.3 1860.5,491.7 1861.2,487.5C1862.0,483.3 1864.0,470.6 1864.9,465.9C1865.8,461.2 1868.9,445.3 1869.9,440.8C1870.9,436.3 1874.0,424.5 1875.0,420.7C1876.0,416.9 1879.0,406.2 1880.0,403.2C1881.0,400.2 1884.2,392.1 1885.0,390.6C1885.8,389.1 1886.8,387.7 1887.5,388.1C1888.2,388.5 1891.5,392.6 1892.5,394.4C1893.5,396.2 1896.6,403.4 1897.6,405.7C1898.6,408.0 1901.5,415.2 1902.6,417.0C1903.7,418.8 1907.8,421.8 1908.9,423.2C1910.0,424.6 1912.9,429.0 1913.9,430.8C1914.9,432.6 1917.9,438.8 1918.9,440.8C1919.9,442.8 1922.9,449.0 1923.9,450.9C1924.9,452.8 1927.8,457.9 1928.9,459.6C1930.0,461.4 1933.9,466.5 1935.2,468.4C1936.5,470.3 1940.2,476.5 1941.5,478.5C1942.8,480.5 1946.8,486.1 1947.8,488.5C1948.8,490.9 1950.8,499.4 1951.5,502.6C1952.2,505.8 1954.5,515.9 1955.3,520.2C1956.1,524.5 1958.3,540.3 1959.1,545.3C1959.8,550.3 1962.0,565.6 1962.8,570.4C1963.5,575.2 1965.8,588.7 1966.6,593.0C1967.4,597.3 1969.5,609.1 1970.4,613.1C1971.3,617.1 1974.3,629.7 1975.4,633.2C1976.5,636.7 1980.6,645.4 1981.7,648.2C1982.8,651.0 1985.7,658.5 1986.7,660.8C1987.7,663.1 1990.5,669.2 1991.7,670.8C1993.0,672.3 1997.7,675.4 1999.2,676.3C2000.7,677.2 2005.2,678.8 2006.8,679.6C2008.4,680.4 2013.6,683.3 2015.6,683.9C2017.6,684.5 2024.8,685.4 2026.9,685.4C2029.0,685.4 2035.0,684.0 2036.9,683.4C2038.8,682.8 2043.9,680.6 2045.7,679.6C2047.5,678.6 2052.9,674.6 2054.5,673.3C2056.1,672.0 2060.4,668.0 2062.0,667.0C2063.6,666.0 2068.9,663.7 2070.0,663.3C2071.1,662.9 2072.7,663.3 2073.0,663.3"/>
<path d="M1601.2,516.1C1601.5,516.1 1602.4,516.0 1603.8,516.1C1605.2,516.2 1612.7,517.3 1615.1,517.4C1617.5,517.5 1625.2,517.5 1627.7,517.4C1630.2,517.3 1637.7,516.3 1640.2,516.1C1642.7,515.9 1650.3,515.9 1652.8,515.6C1655.3,515.3 1662.8,513.4 1665.3,513.1C1667.8,512.8 1675.4,512.4 1677.9,512.4C1680.4,512.4 1688.1,513.2 1690.4,513.1C1692.7,513.0 1698.5,511.8 1700.5,511.6C1702.5,511.4 1708.8,511.7 1710.5,511.1C1712.2,510.6 1716.4,506.7 1718.0,506.1C1719.6,505.5 1725.3,505.4 1726.8,504.8C1728.3,504.2 1731.8,500.9 1733.1,500.6C1734.4,500.3 1738.0,502.3 1739.4,501.6C1740.8,500.9 1745.4,494.9 1746.9,493.5C1748.4,492.1 1752.9,488.4 1754.4,487.3C1755.9,486.2 1760.6,482.8 1762.0,482.2C1763.4,481.6 1766.8,481.6 1768.3,481.0C1769.8,480.4 1775.2,477.0 1777.0,476.0C1778.8,475.0 1784.0,471.9 1785.8,470.9C1787.6,469.9 1793.0,467.4 1794.6,466.4C1796.2,465.4 1800.7,462.3 1802.2,460.9C1803.7,459.5 1808.1,454.1 1809.7,452.1C1811.3,450.1 1816.7,443.1 1818.5,440.8C1820.3,438.5 1825.7,431.6 1827.3,429.5C1828.9,427.4 1833.4,421.9 1834.8,419.5C1836.2,417.1 1840.1,408.3 1841.1,405.7C1842.1,403.1 1844.0,396.1 1844.8,393.1C1845.5,390.1 1847.8,379.3 1848.6,375.5C1849.4,371.7 1851.7,359.7 1852.4,355.4C1853.2,351.1 1855.3,337.0 1856.1,332.9C1856.8,328.8 1859.1,317.5 1859.9,314.0C1860.7,310.5 1862.8,300.6 1863.7,297.7C1864.6,294.8 1867.7,287.1 1868.7,285.1C1869.7,283.1 1872.5,278.9 1873.7,277.6C1874.9,276.3 1879.3,272.1 1880.7,272.1C1882.1,272.1 1886.4,276.2 1887.5,277.6C1888.6,279.0 1890.5,284.5 1891.3,286.4C1892.0,288.3 1894.2,294.3 1895.0,296.4C1895.8,298.5 1898.0,305.8 1898.8,307.7C1899.6,309.6 1901.7,315.2 1902.6,315.8C1903.5,316.4 1906.6,314.8 1907.6,314.0C1908.6,313.2 1911.6,308.8 1912.6,307.7C1913.6,306.6 1916.6,303.1 1917.6,303.2C1918.6,303.3 1921.7,307.4 1922.7,309.0C1923.7,310.6 1926.7,316.9 1927.7,319.0C1928.7,321.1 1931.7,327.9 1932.7,330.3C1933.7,332.7 1936.7,340.4 1937.7,342.9C1938.7,345.4 1941.7,352.6 1942.7,355.4C1943.7,358.2 1946.8,367.0 1947.8,370.5C1948.8,374.0 1951.8,386.6 1952.8,390.6C1953.8,394.6 1956.9,407.2 1957.8,410.7C1958.7,414.2 1960.7,422.7 1961.6,425.7C1962.5,428.7 1965.6,438.0 1966.6,440.8C1967.6,443.6 1970.6,450.9 1971.6,453.4C1972.6,455.9 1975.5,463.6 1976.6,465.9C1977.7,468.2 1981.6,473.9 1982.9,476.0C1984.2,478.1 1987.8,485.6 1989.2,487.3C1990.6,489.1 1994.9,492.6 1996.7,493.5C1998.5,494.4 2004.8,495.9 2006.8,496.5C2008.8,497.1 2014.7,498.6 2016.8,499.1C2018.9,499.6 2025.8,501.7 2028.1,501.6C2030.4,501.6 2037.3,499.3 2039.4,498.6C2041.5,497.9 2047.5,495.6 2049.5,494.8C2051.5,494.0 2057.4,491.4 2059.5,490.5C2061.6,489.6 2068.7,486.4 2070.0,486.0C2071.3,485.6 2072.7,486.0 2073.0,486.0"/>
<path d="M1601.2,318.8C1601.5,318.8 1602.4,318.8 1603.8,318.8C1605.2,318.8 1612.7,318.6 1615.1,318.8C1617.5,319.0 1625.2,320.7 1627.7,320.8C1630.2,320.9 1637.4,320.2 1640.2,320.0C1643.0,319.8 1652.3,319.0 1655.3,318.8C1658.3,318.6 1667.3,318.6 1670.3,318.3C1673.3,318.1 1682.4,316.7 1685.4,316.3C1688.4,315.9 1698.0,314.4 1700.5,314.3C1703.0,314.2 1708.8,315.4 1710.5,315.0C1712.2,314.6 1716.0,311.4 1718.0,310.7C1720.0,309.9 1728.3,308.1 1730.6,307.5C1732.9,306.9 1738.6,305.9 1740.6,305.0C1742.6,304.1 1748.7,300.0 1750.7,298.7C1752.7,297.4 1758.9,293.2 1760.7,292.4C1762.5,291.6 1766.8,291.4 1768.3,290.7C1769.8,289.9 1774.0,285.9 1775.8,284.9C1777.5,283.9 1783.8,282.2 1785.8,281.1C1787.8,280.0 1794.0,275.2 1795.9,273.6C1797.8,272.0 1803.1,266.7 1804.7,265.5C1806.3,264.3 1810.6,262.7 1812.2,261.5C1813.8,260.3 1819.4,255.3 1821.0,253.5C1822.6,251.7 1827.1,245.7 1828.5,243.4C1829.9,241.1 1833.4,233.3 1834.8,230.9C1836.2,228.5 1841.2,222.1 1842.3,219.6C1843.4,217.1 1845.3,208.7 1846.1,205.8C1846.9,202.9 1849.2,194.2 1849.9,190.7C1850.7,187.2 1852.8,174.1 1853.6,170.6C1854.3,167.1 1856.6,158.4 1857.4,155.6C1858.2,152.8 1860.3,145.8 1861.2,143.0C1862.1,140.2 1865.2,130.5 1866.2,128.0C1867.2,125.5 1870.1,119.5 1871.2,117.9C1872.3,116.3 1876.4,112.3 1877.5,111.6C1878.6,110.8 1881.4,110.1 1882.5,110.4C1883.6,110.7 1887.5,113.1 1888.8,114.2C1890.0,115.3 1893.6,120.1 1895.0,121.7C1896.4,123.3 1901.2,130.4 1902.6,130.5C1904.0,130.6 1907.8,124.7 1908.9,122.9C1910.0,121.1 1913.0,114.5 1913.9,112.9C1914.8,111.3 1916.6,107.3 1917.6,106.6C1918.6,105.8 1922.8,104.5 1923.9,105.4C1925.0,106.3 1927.9,113.4 1928.9,115.4C1929.9,117.4 1933.1,123.0 1934.0,125.4C1934.9,127.8 1936.8,136.3 1937.7,139.3C1938.6,142.3 1941.7,152.5 1942.7,155.6C1943.7,158.7 1946.8,167.1 1947.8,170.6C1948.8,174.1 1951.8,186.7 1952.8,190.7C1953.8,194.7 1956.8,207.0 1957.8,210.8C1958.8,214.6 1961.8,225.0 1962.8,228.4C1963.8,231.8 1966.8,241.4 1967.9,244.7C1969.0,248.0 1972.8,257.9 1974.1,261.0C1975.3,264.1 1979.1,273.3 1980.4,276.1C1981.7,278.9 1985.3,286.3 1986.7,288.6C1988.1,290.9 1992.7,297.2 1994.2,298.7C1995.7,300.2 1999.9,302.8 2001.7,303.7C2003.5,304.6 2009.9,307.4 2011.8,308.2C2013.7,308.9 2018.8,311.3 2020.6,311.2C2022.4,311.1 2027.5,308.1 2029.4,307.5C2031.3,306.9 2037.8,305.5 2039.4,305.0C2041.0,304.5 2044.4,303.4 2045.7,302.5C2047.0,301.6 2050.4,297.0 2052.0,296.2C2053.6,295.4 2060.2,294.7 2062.0,294.2C2063.8,293.7 2068.9,291.5 2070.0,291.2C2071.1,290.9 2072.7,291.2 2073.0,291.2"/>
</g>
<g id="arrows">
<line x1="538" y1="269" x2="538" y2="521" stroke="#0000ff" stroke-width="3.4"/><polygon points="538,249 523.7,277.4 552.3,277.4" fill="#0000ff"/>
<line x1="715.3" y1="170.4" x2="715.3" y2="423" stroke="#0000ff" stroke-width="3.4"/><polygon points="715.3,150.4 701.0,178.8 729.5999999999999,178.8" fill="#0000ff"/>
<line x1="932.6" y1="189.8" x2="932.6" y2="442" stroke="#0000ff" stroke-width="3.4"/><polygon points="932.6,169.8 918.3000000000001,198.20000000000002 946.9,198.20000000000002" fill="#0000ff"/>
<line x1="1167" y1="312.4" x2="1167" y2="418" stroke="#0000ff" stroke-width="3.4"/><polygon points="1167,292.4 1152.7,320.79999999999995 1181.3,320.79999999999995" fill="#0000ff"/>
<line x1="1221.5" y1="122.2" x2="1222.3" y2="535" stroke="#0000ff" stroke-width="3.4"/><polygon points="1221.5,102.2 1207.2,130.6 1235.8,130.6" fill="#0000ff"/>
</g>
<g id="axes">
<path d="M116.3,1133.5 L116.3,27.8 L1532.2,27.8 L1532.2,1105.4 L116.3,1105.4" stroke="#000" stroke-width="6" fill="none" stroke-linecap="butt" stroke-linejoin="miter"/>
<line x1="352" y1="1105" x2="352" y2="1133.5" stroke="#000" stroke-width="6" fill="none" stroke-linecap="butt"/>
<line x1="666.8" y1="1105" x2="666.8" y2="1133.5" stroke="#000" stroke-width="6" fill="none" stroke-linecap="butt"/>
<line x1="981.5" y1="1105" x2="981.5" y2="1133.5" stroke="#000" stroke-width="6" fill="none" stroke-linecap="butt"/>
<line x1="1296.3" y1="1105" x2="1296.3" y2="1133.5" stroke="#000" stroke-width="6" fill="none" stroke-linecap="butt"/>
<line x1="194.7" y1="1105" x2="194.7" y2="1121" stroke="#000" stroke-width="6" fill="none" stroke-linecap="butt"/>
<line x1="509.4" y1="1105" x2="509.4" y2="1121" stroke="#000" stroke-width="6" fill="none" stroke-linecap="butt"/>
<line x1="824.2" y1="1105" x2="824.2" y2="1121" stroke="#000" stroke-width="6" fill="none" stroke-linecap="butt"/>
<line x1="1139" y1="1105" x2="1139" y2="1121" stroke="#000" stroke-width="6" fill="none" stroke-linecap="butt"/>
<line x1="1453.7" y1="1105" x2="1453.7" y2="1121" stroke="#000" stroke-width="6" fill="none" stroke-linecap="butt"/>
<path d="M1601.2,1136.5 L1601.2,31.2 L2073,31.2 L2073,1136.5 M1601.2,1107.8 L2073,1107.8" stroke="#000" stroke-width="6" fill="none" stroke-linecap="butt" stroke-linejoin="miter"/>
<line x1="1836.8" y1="1107" x2="1836.8" y2="1136.5" stroke="#000" stroke-width="6" fill="none" stroke-linecap="butt"/>
<line x1="1719" y1="1107" x2="1719" y2="1124" stroke="#000" stroke-width="6" fill="none" stroke-linecap="butt"/>
<line x1="1954.6" y1="1107" x2="1954.6" y2="1124" stroke="#000" stroke-width="6" fill="none" stroke-linecap="butt"/>
</g>
<g id="texts"><text id="dCH1" transform="translate(406.30,222.50) scale(1.0187,1.0200)" font-family='"Liberation Sans", Arial, Helvetica, sans-serif' font-size="65.69" fill="#0000ff" stroke="#0000ff" stroke-width="1.0"><tspan id="dCH1_g" x="-30.04" y="0.88" font-family='"Liberation Serif", "DejaVu Serif", serif' font-size="71.34">δ</tspan><tspan id="dCH1_t" x="0.00" y="0.00">(C-H)</tspan></text>
<text id="dCH2" transform="translate(622.40,135.60) scale(1.0187,1.0200)" font-family='"Liberation Sans", Arial, Helvetica, sans-serif' font-size="65.69" fill="#0000ff" stroke="#0000ff" stroke-width="1.0"><tspan id="dCH2_g" x="-30.43" y="0.29" font-family='"Liberation Serif", "DejaVu Serif", serif' font-size="71.34">δ</tspan><tspan id="dCH2_t" x="0.00" y="0.00">(C-H)</tspan></text>
<text id="vCC" transform="translate(840.20,152.90) scale(1.0187,1.0200)" font-family='"Liberation Sans", Arial, Helvetica, sans-serif' font-size="65.69" fill="#0000ff" stroke="#0000ff" stroke-width="1.0"><tspan id="vCC_g" x="-34.65" y="-0.88" font-family='"Liberation Serif", "DejaVu Serif", serif' font-size="74.88" textLength="32.74" lengthAdjust="spacingAndGlyphs">ν</tspan><tspan id="vCC_t" x="0.00" y="0.00">(C-C)</tspan></text>
<text id="vsA" transform="translate(1015.20,287.30) scale(1.0187,1.0200)" font-family='"Liberation Sans", Arial, Helvetica, sans-serif' font-size="65.69" fill="#0000ff" stroke="#0000ff" stroke-width="1.0"><tspan id="vsA_g" x="-52.32" y="0.20" font-family='"Liberation Serif", "DejaVu Serif", serif' font-size="74.88" textLength="32.74" lengthAdjust="spacingAndGlyphs">ν</tspan><tspan id="vsA_s" x="-18.36" y="21.76" font-size="38.15" textLength="19.97" lengthAdjust="spacingAndGlyphs">s</tspan><tspan id="vsA_t" x="0.00" y="0.00">(OCO)</tspan></text>
<text id="vas" transform="translate(1091.40,98.70) scale(1.0187,1.0200)" font-family='"Liberation Sans", Arial, Helvetica, sans-serif' font-size="65.69" fill="#0000ff" stroke="#0000ff" stroke-width="1.0"><tspan id="vas_g" x="-74.50" y="1.08" font-family='"Liberation Serif", "DejaVu Serif", serif' font-size="74.88" textLength="32.74" lengthAdjust="spacingAndGlyphs">ν</tspan><tspan id="vas_s" x="-40.83" y="23.04" font-size="38.15" textLength="42.19" lengthAdjust="spacingAndGlyphs">as</tspan><tspan id="vas_t" x="0.00" y="0.00">(OCO)</tspan></text>
<text id="vCeC" transform="translate(1346.50,86.90) scale(1.0187,1.0200)" font-family='"Liberation Sans", Arial, Helvetica, sans-serif' font-size="65.69" fill="#0000ff" stroke="#0000ff" stroke-width="1.0"><tspan id="vCeC_g" x="-33.77" y="0.39" font-family='"Liberation Serif", "DejaVu Serif", serif' font-size="74.88" textLength="32.74" lengthAdjust="spacingAndGlyphs">ν</tspan><tspan id="vCeC_t" x="0.00" y="0.00">(C=C)</tspan></text>
<text id="vsB" transform="translate(1835.50,88.70) scale(1.0187,1.0200)" font-family='"Liberation Sans", Arial, Helvetica, sans-serif' font-size="65.69" fill="#000" stroke="#000" stroke-width="1.0"><tspan id="vsB_g" x="-53.01" y="0.00" font-family='"Liberation Serif", "DejaVu Serif", serif' font-size="74.88" textLength="32.74" lengthAdjust="spacingAndGlyphs">ν</tspan><tspan id="vsB_s" x="-18.95" y="22.55" font-size="38.15" textLength="19.97" lengthAdjust="spacingAndGlyphs">s</tspan><tspan id="vsB_t" x="0.00" y="0.00">(OCO)</tspan></text>
<text id="xtitle" transform="translate(750.90,1315.40) scale(1.0000,1.0150)" font-family='"Liberation Sans", Arial, Helvetica, sans-serif' font-size="85.20" fill="#000" stroke="#000" stroke-width="1.0"><tspan id="xt" x="0.00" y="0.00">Wavenumber (cm</tspan><tspan id="xt_s" x="669.40" y="-41.48" font-size="50.86" textLength="36.24" lengthAdjust="spacingAndGlyphs">-1</tspan><tspan id="xt_p" x="715.80" y="0.00">)</tspan></text>
<text id="lblA" transform="translate(128.10,108.70) scale(1.0125,1.0200)" font-family='"Liberation Sans", Arial, Helvetica, sans-serif' font-size="83.73" fill="#000" stroke="#000" stroke-width="1.0">(A)</text>
<text id="lblB" transform="translate(1609.80,107.40) scale(1.0125,1.0200)" font-family='"Liberation Sans", Arial, Helvetica, sans-serif' font-size="83.73" fill="#000" stroke="#000" stroke-width="1.0">(B)</text>
<text id="Aa" transform="translate(1440.90,1069.00) scale(1.0196,1.0000)" font-family='"Liberation Sans", Arial, Helvetica, sans-serif' font-size="65.10" fill="#000" stroke="#000" stroke-width="1.0">(a)</text>
<text id="Ab" transform="translate(1437.00,943.30) scale(1.0196,1.0000)" font-family='"Liberation Sans", Arial, Helvetica, sans-serif' font-size="65.10" fill="#000" stroke="#000" stroke-width="1.0">(b)</text>
<text id="Ac" transform="translate(1443.90,805.00) scale(1.0196,1.0000)" font-family='"Liberation Sans", Arial, Helvetica, sans-serif' font-size="65.10" fill="#000" stroke="#000" stroke-width="1.0">(c)</text>
<text id="Ad" transform="translate(1439.20,669.10) scale(1.0196,1.0000)" font-family='"Liberation Sans", Arial, Helvetica, sans-serif' font-size="65.10" fill="#000" stroke="#000" stroke-width="1.0">(d)</text>
<text id="Ae" transform="translate(1438.00,533.90) scale(1.0196,1.0000)" font-family='"Liberation Sans", Arial, Helvetica, sans-serif' font-size="65.10" fill="#000" stroke="#000" stroke-width="1.0">(e)</text>
<text id="Ba" transform="translate(1608.60,1050.30) scale(1.0196,1.0000)" font-family='"Liberation Sans", Arial, Helvetica, sans-serif' font-size="65.10" fill="#000" stroke="#000" stroke-width="1.0">(a)</text>
<text id="Bb" transform="translate(1611.10,855.40) scale(1.0196,1.0000)" font-family='"Liberation Sans", Arial, Helvetica, sans-serif' font-size="65.10" fill="#000" stroke="#000" stroke-width="1.0">(b)</text>
<text id="Bc" transform="translate(1614.70,676.60) scale(1.0196,1.0000)" font-family='"Liberation Sans", Arial, Helvetica, sans-serif' font-size="65.10" fill="#000" stroke="#000" stroke-width="1.0">(c)</text>
<text id="Bd" transform="translate(1613.90,473.20) scale(1.0196,1.0000)" font-family='"Liberation Sans", Arial, Helvetica, sans-serif' font-size="65.10" fill="#000" stroke="#000" stroke-width="1.0">(d)</text>
<text id="Be" transform="translate(1615.30,269.30) scale(1.0196,1.0000)" font-family='"Liberation Sans", Arial, Helvetica, sans-serif' font-size="65.10" fill="#000" stroke="#000" stroke-width="1.0">(e)</text>
<text id="t100" transform="translate(63.00,1200.90) scale(0.9595,1.0000)" font-family='"Liberation Sans", Arial, Helvetica, sans-serif' font-size="68.06" fill="#000" stroke="#000" stroke-width="1.0">100</text>
<text id="t400" transform="translate(296.90,1200.90) scale(0.9595,1.0000)" font-family='"Liberation Sans", Arial, Helvetica, sans-serif' font-size="68.06" fill="#000" stroke="#000" stroke-width="1.0">400</text>
<text id="t800" transform="translate(612.10,1201.20) scale(0.9595,1.0000)" font-family='"Liberation Sans", Arial, Helvetica, sans-serif' font-size="68.06" fill="#000" stroke="#000" stroke-width="1.0">800</text>
<text id="t1200" transform="translate(910.40,1201.20) scale(0.9595,1.0000)" font-family='"Liberation Sans", Arial, Helvetica, sans-serif' font-size="68.06" fill="#000" stroke="#000" stroke-width="1.0">1200</text>
<text id="t1600" transform="translate(1224.60,1201.20) scale(0.9595,1.0000)" font-family='"Liberation Sans", Arial, Helvetica, sans-serif' font-size="68.06" fill="#000" stroke="#000" stroke-width="1.0">1600</text>
<text id="t1300" transform="translate(1524.10,1203.80) scale(0.9595,1.0000)" font-family='"Liberation Sans", Arial, Helvetica, sans-serif' font-size="68.06" fill="#000" stroke="#000" stroke-width="1.0">1300</text>
<text id="t1400" transform="translate(1760.50,1203.80) scale(0.9595,1.0000)" font-family='"Liberation Sans", Arial, Helvetica, sans-serif' font-size="68.06" fill="#000" stroke="#000" stroke-width="1.0">1400</text>
<text id="t1500" transform="translate(1996.10,1203.80) scale(0.9595,1.0000)" font-family='"Liberation Sans", Arial, Helvetica, sans-serif' font-size="68.06" fill="#000" stroke="#000" stroke-width="1.0">1500</text>
<text id="yt" transform="translate(71.30,819.90) rotate(-90) scale(1.0156,1.0600)" font-family='"Liberation Sans", Arial, Helvetica, sans-serif' font-size="65.46" fill="#000" stroke="#000" stroke-width="1.0">Intensity (a.u.)</text></g>
</svg>
</body></html>
